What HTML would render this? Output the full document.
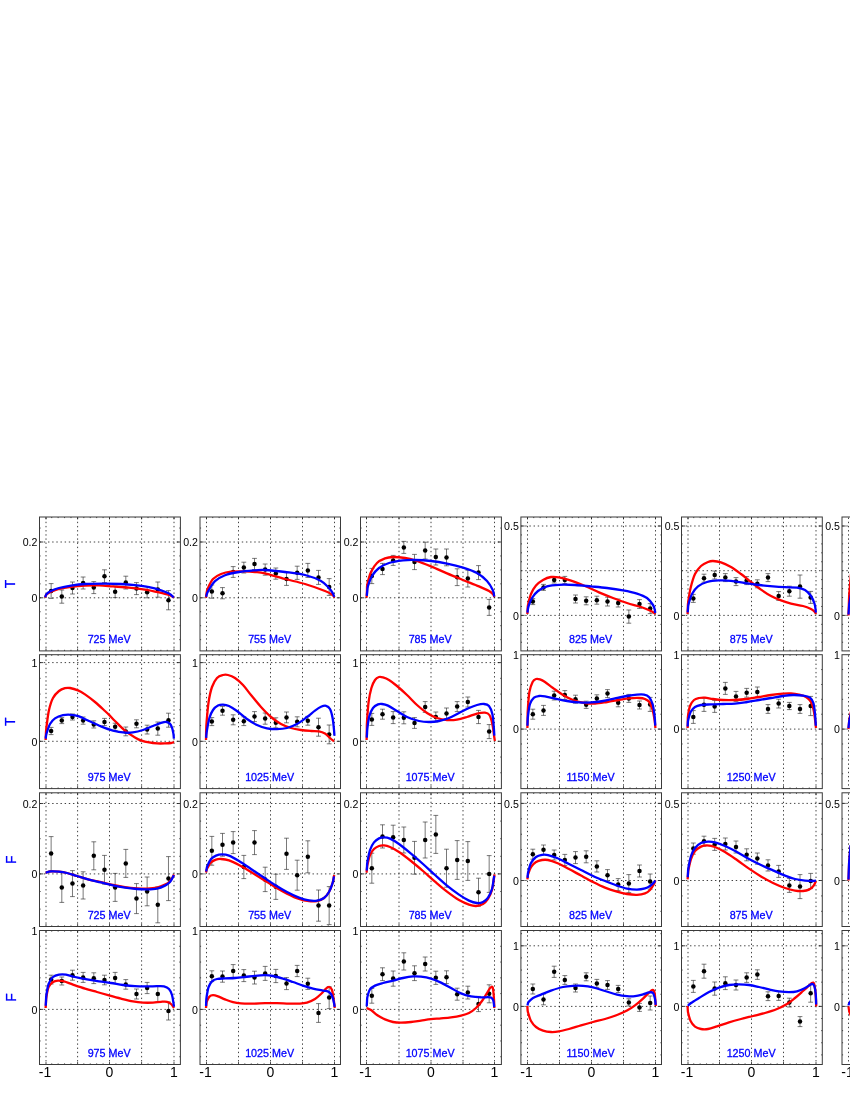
<!DOCTYPE html>
<html><head><meta charset="utf-8"><title>T and F observables</title>
<style>
html,body{margin:0;padding:0;background:#fff}
body{width:850px;height:1100px;overflow:hidden;font-family:"Liberation Sans",sans-serif}
svg{display:block;will-change:transform}
text{font-family:"Liberation Sans",sans-serif}
.g{stroke:#111;stroke-width:0.8;fill:none;stroke-dasharray:1.4 2.76}
.t{stroke:#222;stroke-width:0.85;fill:none}
.fr{stroke:#3a3a3a;stroke-width:1.0;fill:none}
.e{stroke:#333;stroke-width:0.66;fill:none}
.red{stroke:#ff0000;stroke-width:2.3;fill:none;stroke-linejoin:round}
.blue{stroke:#0000ff;stroke-width:2.3;fill:none;stroke-linejoin:round}
.yl{font-size:10.6px;text-anchor:end;fill:#000}
.xl{font-size:14px;text-anchor:middle;fill:#000}
.lb{font-size:10.75px;text-anchor:middle;fill:#0000ff;stroke:#0000ff;stroke-width:0.28}
.rl{font-size:14px;text-anchor:middle;fill:#0000ff;stroke:#0000ff;stroke-width:0.25}
</style></head><body>
<svg width="850" height="1100" viewBox="0 0 850 1100">
<rect width="850" height="1100" fill="#fff"/>
<path d="M46 517.6V650.9M77.6 517.6V650.9M109.5 517.6V650.9M141.6 517.6V650.9M174 517.6V650.9M39.7 542H180.4M39.7 597.8H180.4" class="g"/>
<path d="M39.5 639.65h1.1M180.4 639.65h-1.1M39.5 625.7h1.1M180.4 625.7h-1.1M39.5 611.75h1.1M180.4 611.75h-1.1M39.5 597.8h3.7M180.4 597.8h-3.7M39.5 583.85h1.1M180.4 583.85h-1.1M39.5 569.9h1.1M180.4 569.9h-1.1M39.5 555.95h1.1M180.4 555.95h-1.1M39.5 542h3.7M180.4 542h-3.7M39.5 528.05h1.1M180.4 528.05h-1.1M46 650.9v-2.4M46 517v2.4M51.72 650.9v-1.1M51.72 517v1.1M58.14 650.9v-1.1M58.14 517v1.1M64.56 650.9v-1.1M64.56 517v1.1M70.98 650.9v-1.1M70.98 517v1.1M77.6 650.9v-2.4M77.6 517v2.4M83.82 650.9v-1.1M83.82 517v1.1M90.24 650.9v-1.1M90.24 517v1.1M96.66 650.9v-1.1M96.66 517v1.1M103.08 650.9v-1.1M103.08 517v1.1M109.5 650.9v-2.4M109.5 517v2.4M115.92 650.9v-1.1M115.92 517v1.1M122.34 650.9v-1.1M122.34 517v1.1M128.76 650.9v-1.1M128.76 517v1.1M135.18 650.9v-1.1M135.18 517v1.1M141.6 650.9v-2.4M141.6 517v2.4M148.02 650.9v-1.1M148.02 517v1.1M154.44 650.9v-1.1M154.44 517v1.1M160.86 650.9v-1.1M160.86 517v1.1M167.28 650.9v-1.1M167.28 517v1.1M174 650.9v-2.4M174 517v2.4" class="t"/>
<text x="37.45" y="546.2" class="yl">0.2</text>
<text x="37.45" y="602" class="yl">0</text>
<path d="M51.13 583.6V598.4M48.73 583.6h4.8M48.73 598.4h4.8M61.8 590V603.2M59.4 590h4.8M59.4 603.2h4.8M72.47 582V594M70.07 582h4.8M70.07 594h4.8M83.13 577V589M80.73 577h4.8M80.73 589h4.8M93.8 581.6V593.6M91.4 581.6h4.8M91.4 593.6h4.8M104.47 569.8V582.6M102.07 569.8h4.8M102.07 582.6h4.8M115.13 586V597.6M112.73 586h4.8M112.73 597.6h4.8M125.8 576.2V589M123.4 576.2h4.8M123.4 589h4.8M136.47 582.6V594.6M134.07 582.6h4.8M134.07 594.6h4.8M147.13 586.6V597.8M144.73 586.6h4.8M144.73 597.8h4.8M157.8 582V597.2M155.4 582h4.8M155.4 597.2h4.8M168.47 590.6V609.8M166.07 590.6h4.8M166.07 609.8h4.8" class="e"/>
<g><circle cx="51.13" cy="591" r="2.25"/><circle cx="61.8" cy="596.6" r="2.25"/><circle cx="72.47" cy="588" r="2.25"/><circle cx="83.13" cy="583" r="2.25"/><circle cx="93.8" cy="587.6" r="2.25"/><circle cx="104.47" cy="576.2" r="2.25"/><circle cx="115.13" cy="591.8" r="2.25"/><circle cx="125.8" cy="582.6" r="2.25"/><circle cx="136.47" cy="588.6" r="2.25"/><circle cx="147.13" cy="592.2" r="2.25"/><circle cx="157.8" cy="589.6" r="2.25"/><circle cx="168.47" cy="600.2" r="2.25"/></g>
<path d="M45 597.6C45.27 597.07 45.6 595.4 46.6 594.4C47.6 593.4 48.93 592.53 51 591.6C53.07 590.67 55.67 589.6 59 588.8C62.33 588 66.67 587.33 71 586.8C75.33 586.27 80.33 585.83 85 585.6C89.67 585.37 94.33 585.27 99 585.4C103.67 585.53 108 586.03 113 586.4C118 586.77 123.67 587.07 129 587.6C134.33 588.13 140 588.8 145 589.6C150 590.4 155 591.5 159 592.4C163 593.3 166.5 594.13 169 595C171.5 595.87 173.17 597.17 174 597.6" class="red"/>
<path d="M45.21 597.14C45.44 596.61 45.63 595.02 46.6 594C47.57 592.98 48.93 592 51 591C53.07 590 55.67 588.9 59 588C62.33 587.1 66.67 586.27 71 585.6C75.33 584.93 79.33 584.33 85 584C90.67 583.67 99 583.6 105 583.6C111 583.6 116 583.73 121 584C126 584.27 130.33 584.67 135 585.2C139.67 585.73 144.67 586.33 149 587.2C153.33 588.07 157.67 589.33 161 590.4C164.33 591.47 166.88 592.44 169 593.6C171.12 594.76 172.94 596.76 173.73 597.39" class="blue"/>
<text x="109.15" y="643" class="lb">725 MeV</text>
<rect x="39.5" y="517" width="140.9" height="133.9" class="fr"/>
<path d="M206.5 517.6V650.9M238.5 517.6V650.9M270.5 517.6V650.9M302.5 517.6V650.9M334.5 517.6V650.9M200.2 542H340.5M200.2 597.8H340.5" class="g"/>
<path d="M200 639.65h1.1M340.5 639.65h-1.1M200 625.7h1.1M340.5 625.7h-1.1M200 611.75h1.1M340.5 611.75h-1.1M200 597.8h3.7M340.5 597.8h-3.7M200 583.85h1.1M340.5 583.85h-1.1M200 569.9h1.1M340.5 569.9h-1.1M200 555.95h1.1M340.5 555.95h-1.1M200 542h3.7M340.5 542h-3.7M200 528.05h1.1M340.5 528.05h-1.1M206.5 650.9v-2.4M206.5 517v2.4M212.72 650.9v-1.1M212.72 517v1.1M219.14 650.9v-1.1M219.14 517v1.1M225.56 650.9v-1.1M225.56 517v1.1M231.98 650.9v-1.1M231.98 517v1.1M238.5 650.9v-2.4M238.5 517v2.4M244.82 650.9v-1.1M244.82 517v1.1M251.24 650.9v-1.1M251.24 517v1.1M257.66 650.9v-1.1M257.66 517v1.1M264.08 650.9v-1.1M264.08 517v1.1M270.5 650.9v-2.4M270.5 517v2.4M276.92 650.9v-1.1M276.92 517v1.1M283.34 650.9v-1.1M283.34 517v1.1M289.76 650.9v-1.1M289.76 517v1.1M296.18 650.9v-1.1M296.18 517v1.1M302.5 650.9v-2.4M302.5 517v2.4M309.02 650.9v-1.1M309.02 517v1.1M315.44 650.9v-1.1M315.44 517v1.1M321.86 650.9v-1.1M321.86 517v1.1M328.28 650.9v-1.1M328.28 517v1.1M334.5 650.9v-2.4M334.5 517v2.4" class="t"/>
<text x="197.95" y="546.2" class="yl">0.2</text>
<text x="197.95" y="602" class="yl">0</text>
<path d="M211.83 585V598.2M209.43 585h4.8M209.43 598.2h4.8M222.5 587.6V598.8M220.1 587.6h4.8M220.1 598.8h4.8M233.17 566.6V577.4M230.77 566.6h4.8M230.77 577.4h4.8M243.83 562.2V573M241.43 562.2h4.8M241.43 573h4.8M254.5 558.4V569.6M252.1 558.4h4.8M252.1 569.6h4.8M265.17 564V575.2M262.77 564h4.8M262.77 575.2h4.8M275.83 568V579.2M273.43 568h4.8M273.43 579.2h4.8M286.5 572.6V585.4M284.1 572.6h4.8M284.1 585.4h4.8M297.17 566.2V579.4M294.77 566.2h4.8M294.77 579.4h4.8M307.83 563.4V577.4M305.43 563.4h4.8M305.43 577.4h4.8M318.5 570.4V584.4M316.1 570.4h4.8M316.1 584.4h4.8M329.17 578.6V595.4M326.77 578.6h4.8M326.77 595.4h4.8" class="e"/>
<g><circle cx="211.83" cy="591.6" r="2.25"/><circle cx="222.5" cy="593.2" r="2.25"/><circle cx="233.17" cy="572" r="2.25"/><circle cx="243.83" cy="567.6" r="2.25"/><circle cx="254.5" cy="564" r="2.25"/><circle cx="265.17" cy="569.6" r="2.25"/><circle cx="275.83" cy="573.6" r="2.25"/><circle cx="286.5" cy="579" r="2.25"/><circle cx="297.17" cy="572.8" r="2.25"/><circle cx="307.83" cy="570.4" r="2.25"/><circle cx="318.5" cy="577.4" r="2.25"/><circle cx="329.17" cy="587" r="2.25"/></g>
<path d="M206 597.6C206.1 596.83 206.27 594.6 206.6 593C206.93 591.4 206.93 590.33 208 588C209.07 585.67 210.83 581.33 213 579C215.17 576.67 218 575.23 221 574C224 572.77 227 572.03 231 571.6C235 571.17 241 571.33 245 571.4C249 571.47 251.67 571.67 255 572C258.33 572.33 260 572.23 265 573.4C270 574.57 278.33 577.23 285 579C291.67 580.77 298.33 582 305 584C311.67 586 320.5 589.23 325 591C329.5 592.77 330.4 593.5 332 594.6C333.6 595.7 334.17 597.1 334.6 597.6" class="red"/>
<path d="M206.23 596.67C206.36 596.16 206.54 594.78 207 593.6C207.46 592.42 207.67 591.67 209 589.6C210.33 587.53 212.33 583.6 215 581.2C217.67 578.8 221 576.73 225 575.2C229 573.67 234 572.8 239 572C244 571.2 250.67 570.73 255 570.4C259.33 570.07 260 569.73 265 570C270 570.27 278.33 571.17 285 572C291.67 572.83 299 573.5 305 575C311 576.5 317 578.83 321 581C325 583.17 327 585.9 329 588C331 590.1 332.14 592.12 333 593.6C333.86 595.08 333.95 596.32 334.14 596.86" class="blue"/>
<text x="269.65" y="643" class="lb">755 MeV</text>
<rect x="200" y="517" width="140.5" height="133.9" class="fr"/>
<path d="M366.5 517.6V650.9M399 517.6V650.9M431 517.6V650.9M463 517.6V650.9M494.5 517.6V650.9M360.7 542H501.4M360.7 597.8H501.4" class="g"/>
<path d="M360.5 639.65h1.1M501.4 639.65h-1.1M360.5 625.7h1.1M501.4 625.7h-1.1M360.5 611.75h1.1M501.4 611.75h-1.1M360.5 597.8h3.7M501.4 597.8h-3.7M360.5 583.85h1.1M501.4 583.85h-1.1M360.5 569.9h1.1M501.4 569.9h-1.1M360.5 555.95h1.1M501.4 555.95h-1.1M360.5 542h3.7M501.4 542h-3.7M360.5 528.05h1.1M501.4 528.05h-1.1M366.5 650.9v-2.4M366.5 517v2.4M373.22 650.9v-1.1M373.22 517v1.1M379.64 650.9v-1.1M379.64 517v1.1M386.06 650.9v-1.1M386.06 517v1.1M392.48 650.9v-1.1M392.48 517v1.1M399 650.9v-2.4M399 517v2.4M405.32 650.9v-1.1M405.32 517v1.1M411.74 650.9v-1.1M411.74 517v1.1M418.16 650.9v-1.1M418.16 517v1.1M424.58 650.9v-1.1M424.58 517v1.1M431 650.9v-2.4M431 517v2.4M437.42 650.9v-1.1M437.42 517v1.1M443.84 650.9v-1.1M443.84 517v1.1M450.26 650.9v-1.1M450.26 517v1.1M456.68 650.9v-1.1M456.68 517v1.1M463 650.9v-2.4M463 517v2.4M469.52 650.9v-1.1M469.52 517v1.1M475.94 650.9v-1.1M475.94 517v1.1M482.36 650.9v-1.1M482.36 517v1.1M488.78 650.9v-1.1M488.78 517v1.1M494.5 650.9v-2.4M494.5 517v2.4" class="t"/>
<text x="358.45" y="546.2" class="yl">0.2</text>
<text x="358.45" y="602" class="yl">0</text>
<path d="M371.83 568.4V583.6M369.43 568.4h4.8M369.43 583.6h4.8M382.5 563.4V574.6M380.1 563.4h4.8M380.1 574.6h4.8M393.17 555.4V565.4M390.77 555.4h4.8M390.77 565.4h4.8M403.83 541.4V553.4M401.43 541.4h4.8M401.43 553.4h4.8M414.5 554.4V569.6M412.1 554.4h4.8M412.1 569.6h4.8M425.17 542.2V559M422.77 542.2h4.8M422.77 559h4.8M435.83 549V565M433.43 549h4.8M433.43 565h4.8M446.5 549V565.8M444.1 549h4.8M444.1 565.8h4.8M457.17 568.8V585.6M454.77 568.8h4.8M454.77 585.6h4.8M467.83 570.2V587M465.43 570.2h4.8M465.43 587h4.8M478.5 565.6V579.6M476.1 565.6h4.8M476.1 579.6h4.8M489.17 599.4V615.4M486.77 599.4h4.8M486.77 615.4h4.8" class="e"/>
<g><circle cx="371.83" cy="576" r="2.25"/><circle cx="382.5" cy="569" r="2.25"/><circle cx="393.17" cy="560.4" r="2.25"/><circle cx="403.83" cy="547.4" r="2.25"/><circle cx="414.5" cy="562" r="2.25"/><circle cx="425.17" cy="550.6" r="2.25"/><circle cx="435.83" cy="557" r="2.25"/><circle cx="446.5" cy="557.4" r="2.25"/><circle cx="457.17" cy="577.2" r="2.25"/><circle cx="467.83" cy="578.6" r="2.25"/><circle cx="478.5" cy="572.6" r="2.25"/><circle cx="489.17" cy="607.4" r="2.25"/></g>
<path d="M366.6 597.6C366.67 596.33 366.87 592.27 367 590C367.13 587.73 366.73 587 367.4 584C368.07 581 369.4 575.5 371 572C372.6 568.5 374.67 565.27 377 563C379.33 560.73 382.33 559.4 385 558.4C387.67 557.4 389.67 557.07 393 557C396.33 556.93 401.33 557.43 405 558C408.67 558.57 410.67 559 415 560.4C419.33 561.8 425.67 564.23 431 566.4C436.33 568.57 441.67 571.13 447 573.4C452.33 575.67 457.67 577.83 463 580C468.33 582.17 474.67 584.57 479 586.4C483.33 588.23 486.71 589.73 489 591C491.29 592.27 491.84 593 492.76 594C493.68 595 494.21 596.5 494.5 597" class="red"/>
<path d="M366.78 595.9C366.85 595.25 367 593.65 367.2 592C367.4 590.35 367.2 588.67 368 586C368.8 583.33 370.17 579 372 576C373.83 573 376.17 570.17 379 568C381.83 565.83 385 564.27 389 563C393 561.73 398.67 560.9 403 560.4C407.33 559.9 410.33 559.9 415 560C419.67 560.1 425.67 560.4 431 561C436.33 561.6 441.67 562.5 447 563.6C452.33 564.7 458 566.03 463 567.6C468 569.17 473 570.77 477 573C481 575.23 484.37 578.17 487 581C489.63 583.83 491.55 587.41 492.76 590C493.97 592.59 494 595.43 494.25 596.51" class="blue"/>
<text x="430.15" y="643" class="lb">785 MeV</text>
<rect x="360.5" y="517" width="140.9" height="133.9" class="fr"/>
<path d="M527.5 517.6V650.9M559.5 517.6V650.9M591.5 517.6V650.9M623.5 517.6V650.9M655.5 517.6V650.9M521.1 526H661.5M521.1 570.7H661.5M521.1 615.4H661.5" class="g"/>
<path d="M520.9 642.22h1.1M661.5 642.22h-1.1M520.9 633.28h1.1M661.5 633.28h-1.1M520.9 624.34h1.1M661.5 624.34h-1.1M520.9 615.4h3.7M661.5 615.4h-3.7M520.9 606.46h1.1M661.5 606.46h-1.1M520.9 597.52h1.1M661.5 597.52h-1.1M520.9 588.58h1.1M661.5 588.58h-1.1M520.9 579.64h1.1M661.5 579.64h-1.1M520.9 570.7h1.1M661.5 570.7h-1.1M520.9 561.76h1.1M661.5 561.76h-1.1M520.9 552.82h1.1M661.5 552.82h-1.1M520.9 543.88h1.1M661.5 543.88h-1.1M520.9 534.94h1.1M661.5 534.94h-1.1M520.9 526h3.7M661.5 526h-3.7M527.5 650.9v-2.4M527.5 517v2.4M533.72 650.9v-1.1M533.72 517v1.1M540.14 650.9v-1.1M540.14 517v1.1M546.56 650.9v-1.1M546.56 517v1.1M552.98 650.9v-1.1M552.98 517v1.1M559.5 650.9v-2.4M559.5 517v2.4M565.82 650.9v-1.1M565.82 517v1.1M572.24 650.9v-1.1M572.24 517v1.1M578.66 650.9v-1.1M578.66 517v1.1M585.08 650.9v-1.1M585.08 517v1.1M591.5 650.9v-2.4M591.5 517v2.4M597.92 650.9v-1.1M597.92 517v1.1M604.34 650.9v-1.1M604.34 517v1.1M610.76 650.9v-1.1M610.76 517v1.1M617.18 650.9v-1.1M617.18 517v1.1M623.5 650.9v-2.4M623.5 517v2.4M630.02 650.9v-1.1M630.02 517v1.1M636.44 650.9v-1.1M636.44 517v1.1M642.86 650.9v-1.1M642.86 517v1.1M649.28 650.9v-1.1M649.28 517v1.1M655.5 650.9v-2.4M655.5 517v2.4" class="t"/>
<text x="518.85" y="530.2" class="yl">0.5</text>
<text x="518.85" y="619.6" class="yl">0</text>
<path d="M532.83 598.6V604.6M530.43 598.6h4.8M530.43 604.6h4.8M543.5 584.4V590.4M541.1 584.4h4.8M541.1 590.4h4.8M554.17 577V583M551.77 577h4.8M551.77 583h4.8M564.83 576.4V583.6M562.43 576.4h4.8M562.43 583.6h4.8M575.5 595V603M573.1 595h4.8M573.1 603h4.8M586.17 596.8V604.8M583.77 596.8h4.8M583.77 604.8h4.8M596.83 596.2V604.2M594.43 596.2h4.8M594.43 604.2h4.8M607.5 597.2V606M605.1 597.2h4.8M605.1 606h4.8M618.17 599V607M615.77 599h4.8M615.77 607h4.8M628.83 610V623.2M626.43 610h4.8M626.43 623.2h4.8M639.5 599.6V608.4M637.1 599.6h4.8M637.1 608.4h4.8M650.17 603.6V613.6M647.77 603.6h4.8M647.77 613.6h4.8" class="e"/>
<g><circle cx="532.83" cy="601.6" r="2.25"/><circle cx="543.5" cy="587.4" r="2.25"/><circle cx="554.17" cy="580" r="2.25"/><circle cx="564.83" cy="580" r="2.25"/><circle cx="575.5" cy="599" r="2.25"/><circle cx="586.17" cy="600.8" r="2.25"/><circle cx="596.83" cy="600.2" r="2.25"/><circle cx="607.5" cy="601.6" r="2.25"/><circle cx="618.17" cy="603" r="2.25"/><circle cx="628.83" cy="616.6" r="2.25"/><circle cx="639.5" cy="604" r="2.25"/><circle cx="650.17" cy="608.6" r="2.25"/></g>
<path d="M527.4 614C527.43 613.17 527.47 610.67 527.6 609C527.73 607.33 527.63 606.5 528.2 604C528.77 601.5 529.7 597.07 531 594C532.3 590.93 534 587.93 536 585.6C538 583.27 540.5 581.43 543 580C545.5 578.57 548.33 577.43 551 577C553.67 576.57 555.67 576.8 559 577.4C562.33 578 566.67 579.17 571 580.6C575.33 582.03 580.33 584.03 585 586C589.67 587.97 594.33 590.4 599 592.4C603.67 594.4 608.33 596.23 613 598C617.67 599.77 622.33 601.5 627 603C631.67 604.5 637 605.67 641 607C645 608.33 648.6 609.83 651 611C653.4 612.17 654.67 613.5 655.4 614" class="red"/>
<path d="M527.54 612.65C527.58 612.21 527.62 611.11 527.8 610C527.98 608.89 527.9 608 528.6 606C529.3 604 530.43 600.5 532 598C533.57 595.5 535.5 592.93 538 591C540.5 589.07 543.5 587.43 547 586.4C550.5 585.37 554.33 585.03 559 584.8C563.67 584.57 569.67 584.73 575 585C580.33 585.27 585.67 585.9 591 586.4C596.33 586.9 601.67 587.33 607 588C612.33 588.67 618 589.47 623 590.4C628 591.33 633 592.33 637 593.6C641 594.87 644.33 596.1 647 598C649.67 599.9 651.7 603 653 605C654.3 607 654.43 608.67 654.8 610C655.17 611.33 655.17 612.49 655.25 612.99" class="blue"/>
<text x="590.55" y="643" class="lb">825 MeV</text>
<rect x="520.9" y="517" width="140.6" height="133.9" class="fr"/>
<path d="M688 517.6V650.9M719.5 517.6V650.9M751.5 517.6V650.9M783.5 517.6V650.9M816 517.6V650.9M681.7 526H822.3M681.7 570.7H822.3M681.7 615.4H822.3" class="g"/>
<path d="M681.5 642.22h1.1M822.3 642.22h-1.1M681.5 633.28h1.1M822.3 633.28h-1.1M681.5 624.34h1.1M822.3 624.34h-1.1M681.5 615.4h3.7M822.3 615.4h-3.7M681.5 606.46h1.1M822.3 606.46h-1.1M681.5 597.52h1.1M822.3 597.52h-1.1M681.5 588.58h1.1M822.3 588.58h-1.1M681.5 579.64h1.1M822.3 579.64h-1.1M681.5 570.7h1.1M822.3 570.7h-1.1M681.5 561.76h1.1M822.3 561.76h-1.1M681.5 552.82h1.1M822.3 552.82h-1.1M681.5 543.88h1.1M822.3 543.88h-1.1M681.5 534.94h1.1M822.3 534.94h-1.1M681.5 526h3.7M822.3 526h-3.7M688 650.9v-2.4M688 517v2.4M693.72 650.9v-1.1M693.72 517v1.1M700.14 650.9v-1.1M700.14 517v1.1M706.56 650.9v-1.1M706.56 517v1.1M712.98 650.9v-1.1M712.98 517v1.1M719.5 650.9v-2.4M719.5 517v2.4M725.82 650.9v-1.1M725.82 517v1.1M732.24 650.9v-1.1M732.24 517v1.1M738.66 650.9v-1.1M738.66 517v1.1M745.08 650.9v-1.1M745.08 517v1.1M751.5 650.9v-2.4M751.5 517v2.4M757.92 650.9v-1.1M757.92 517v1.1M764.34 650.9v-1.1M764.34 517v1.1M770.76 650.9v-1.1M770.76 517v1.1M777.18 650.9v-1.1M777.18 517v1.1M783.5 650.9v-2.4M783.5 517v2.4M790.02 650.9v-1.1M790.02 517v1.1M796.44 650.9v-1.1M796.44 517v1.1M802.86 650.9v-1.1M802.86 517v1.1M809.28 650.9v-1.1M809.28 517v1.1M816 650.9v-2.4M816 517v2.4" class="t"/>
<text x="679.45" y="530.2" class="yl">0.5</text>
<text x="679.45" y="619.6" class="yl">0</text>
<path d="M693.33 594.4V602.4M690.93 594.4h4.8M690.93 602.4h4.8M704 574.2V582.2M701.6 574.2h4.8M701.6 582.2h4.8M714.67 571V579M712.27 571h4.8M712.27 579h4.8M725.33 573.6V581.6M722.93 573.6h4.8M722.93 581.6h4.8M736 577.6V585.6M733.6 577.6h4.8M733.6 585.6h4.8M746.67 576.6V584.6M744.27 576.6h4.8M744.27 584.6h4.8M757.33 579.8V587.8M754.93 579.8h4.8M754.93 587.8h4.8M768 573.6V581.6M765.6 573.6h4.8M765.6 581.6h4.8M778.67 591.6V600.4M776.27 591.6h4.8M776.27 600.4h4.8M789.33 586.2V596.2M786.93 586.2h4.8M786.93 596.2h4.8M800 575V598.2M797.6 575h4.8M797.6 598.2h4.8M810.67 591.4V603.4M808.27 591.4h4.8M808.27 603.4h4.8" class="e"/>
<g><circle cx="693.33" cy="598.4" r="2.25"/><circle cx="704" cy="578.2" r="2.25"/><circle cx="714.67" cy="575" r="2.25"/><circle cx="725.33" cy="577.6" r="2.25"/><circle cx="736" cy="581.6" r="2.25"/><circle cx="746.67" cy="580.6" r="2.25"/><circle cx="757.33" cy="583.8" r="2.25"/><circle cx="768" cy="577.6" r="2.25"/><circle cx="778.67" cy="596" r="2.25"/><circle cx="789.33" cy="591.2" r="2.25"/><circle cx="800" cy="586.6" r="2.25"/><circle cx="810.67" cy="597.4" r="2.25"/></g>
<path d="M687.6 614C687.63 613 687.7 610 687.8 608C687.9 606 687.73 605.33 688.2 602C688.67 598.67 689.47 592.67 690.6 588C691.73 583.33 693.27 577.67 695 574C696.73 570.33 698.83 568 701 566C703.17 564 706 562.83 708 562C710 561.17 710.83 560.93 713 561C715.17 561.07 718 561.4 721 562.4C724 563.4 727.67 565.07 731 567C734.33 568.93 737.67 571.5 741 574C744.33 576.5 747.67 579.4 751 582C754.33 584.6 757.67 587.27 761 589.6C764.33 591.93 767.67 594.2 771 596C774.33 597.8 777.67 599.13 781 600.4C784.33 601.67 787.33 602.67 791 603.6C794.67 604.53 799.67 605.1 803 606C806.33 606.9 809.07 608.07 811 609C812.93 609.93 813.77 610.77 814.6 611.6C815.43 612.43 815.77 613.6 816 614" class="red"/>
<path d="M687.73 612.32C687.78 611.76 687.86 610.39 688 609C688.14 607.61 687.93 606.5 688.6 604C689.27 601.5 690.43 596.93 692 594C693.57 591.07 695.5 588.4 698 586.4C700.5 584.4 703.5 583 707 582C710.5 581 715 580.6 719 580.4C723 580.2 726.67 580.37 731 580.8C735.33 581.23 740.33 582.3 745 583C749.67 583.7 754.33 584.43 759 585C763.67 585.57 768.67 586.03 773 586.4C777.33 586.77 781 587 785 587.2C789 587.4 793.67 587.13 797 587.6C800.33 588.07 802.67 588.6 805 590C807.33 591.4 809.4 593.67 811 596C812.6 598.33 813.83 601.67 814.6 604C815.37 606.33 815.39 608.57 815.6 610C815.81 611.43 815.81 612.13 815.86 612.55" class="blue"/>
<text x="751.15" y="643" class="lb">875 MeV</text>
<rect x="681.5" y="517" width="140.8" height="133.9" class="fr"/>
<path d="M848.5 517.6V650.9M842.2 526H852M842.2 570.7H852M842.2 615.4H852" class="g"/>
<path d="M842 642.22h1.1M842 633.28h1.1M842 624.34h1.1M842 615.4h3.7M842 606.46h1.1M842 597.52h1.1M842 588.58h1.1M842 579.64h1.1M842 570.7h1.1M842 561.76h1.1M842 552.82h1.1M842 543.88h1.1M842 534.94h1.1M842 526h3.7" class="t"/>
<text x="839.95" y="530.2" class="yl">0.5</text>
<text x="839.95" y="619.6" class="yl">0</text>
<path d="M848.5 615.4Q848.7 594.7 851 574" class="red"/>
<path d="M848.5 614.4Q848.7 604.7 851 594" class="blue"/>
<rect x="842" y="517" width="141" height="133.9" class="fr"/>
<path d="M46 655.3V788.6M77.6 655.3V788.6M109.5 655.3V788.6M141.6 655.3V788.6M174 655.3V788.6M39.7 662.6H180.4M39.7 741.3H180.4" class="g"/>
<path d="M39.5 772.78h1.1M180.4 772.78h-1.1M39.5 757.04h1.1M180.4 757.04h-1.1M39.5 741.3h3.7M180.4 741.3h-3.7M39.5 725.56h1.1M180.4 725.56h-1.1M39.5 709.82h1.1M180.4 709.82h-1.1M39.5 694.08h1.1M180.4 694.08h-1.1M39.5 678.34h1.1M180.4 678.34h-1.1M39.5 662.6h3.7M180.4 662.6h-3.7M46 788.6v-2.4M46 654.7v2.4M51.72 788.6v-1.1M51.72 654.7v1.1M58.14 788.6v-1.1M58.14 654.7v1.1M64.56 788.6v-1.1M64.56 654.7v1.1M70.98 788.6v-1.1M70.98 654.7v1.1M77.6 788.6v-2.4M77.6 654.7v2.4M83.82 788.6v-1.1M83.82 654.7v1.1M90.24 788.6v-1.1M90.24 654.7v1.1M96.66 788.6v-1.1M96.66 654.7v1.1M103.08 788.6v-1.1M103.08 654.7v1.1M109.5 788.6v-2.4M109.5 654.7v2.4M115.92 788.6v-1.1M115.92 654.7v1.1M122.34 788.6v-1.1M122.34 654.7v1.1M128.76 788.6v-1.1M128.76 654.7v1.1M135.18 788.6v-1.1M135.18 654.7v1.1M141.6 788.6v-2.4M141.6 654.7v2.4M148.02 788.6v-1.1M148.02 654.7v1.1M154.44 788.6v-1.1M154.44 654.7v1.1M160.86 788.6v-1.1M160.86 654.7v1.1M167.28 788.6v-1.1M167.28 654.7v1.1M174 788.6v-2.4M174 654.7v2.4" class="t"/>
<text x="37.45" y="666.8" class="yl">1</text>
<text x="37.45" y="745.5" class="yl">0</text>
<path d="M51.13 727.4V734.6M48.73 727.4h4.8M48.73 734.6h4.8M61.8 717.6V723.6M59.4 717.6h4.8M59.4 723.6h4.8M72.47 714V720M70.07 714h4.8M70.07 720h4.8M83.13 717V724.2M80.73 717h4.8M80.73 724.2h4.8M93.8 720.8V728M91.4 720.8h4.8M91.4 728h4.8M104.47 718.4V725.6M102.07 718.4h4.8M102.07 725.6h4.8M115.13 723.2V730.4M112.73 723.2h4.8M112.73 730.4h4.8M125.8 727V735.8M123.4 727h4.8M123.4 735.8h4.8M136.47 719.8V727.8M134.07 719.8h4.8M134.07 727.8h4.8M147.13 725.2V734M144.73 725.2h4.8M144.73 734h4.8M157.8 722V735.2M155.4 722h4.8M155.4 735.2h4.8M168.47 713.2V727.2M166.07 713.2h4.8M166.07 727.2h4.8" class="e"/>
<g><circle cx="51.13" cy="731" r="2.25"/><circle cx="61.8" cy="720.6" r="2.25"/><circle cx="72.47" cy="717" r="2.25"/><circle cx="83.13" cy="720.6" r="2.25"/><circle cx="93.8" cy="724.4" r="2.25"/><circle cx="104.47" cy="722" r="2.25"/><circle cx="115.13" cy="726.8" r="2.25"/><circle cx="125.8" cy="731.4" r="2.25"/><circle cx="136.47" cy="723.8" r="2.25"/><circle cx="147.13" cy="729.6" r="2.25"/><circle cx="157.8" cy="728.6" r="2.25"/><circle cx="168.47" cy="720.2" r="2.25"/></g>
<path d="M45.6 740C45.67 738.67 45.83 734.33 46 732C46.17 729.67 46.1 729.67 46.6 726C47.1 722.33 47.93 714.67 49 710C50.07 705.33 51.33 701.17 53 698C54.67 694.83 57 692.63 59 691C61 689.37 63.17 688.7 65 688.2C66.83 687.7 67.83 687.63 70 688C72.17 688.37 75.5 689.33 78 690.4C80.5 691.47 82.17 692.47 85 694.4C87.83 696.33 91.67 699.23 95 702C98.33 704.77 102.57 708.77 105 711C107.43 713.23 107.93 713.73 109.6 715.4C111.27 717.07 112.43 718.47 115 721C117.57 723.53 121.67 727.87 125 730.6C128.33 733.33 132.23 735.73 135 737.4C137.77 739.07 139.27 739.77 141.6 740.6C143.93 741.43 146.43 741.93 149 742.4C151.57 742.87 154.33 743.23 157 743.4C159.67 743.57 162.67 743.47 165 743.4C167.33 743.33 169.5 743.23 171 743C172.5 742.77 173.5 742.17 174 742" class="red"/>
<path d="M45.74 738.64C45.78 738.2 45.79 737.11 46 736C46.21 734.89 46.33 734 47 732C47.67 730 48.67 726.27 50 724C51.33 721.73 52.83 719.87 55 718.4C57.17 716.93 60.33 715.8 63 715.2C65.67 714.6 68.33 714.6 71 714.8C73.67 715 76 715.37 79 716.4C82 717.43 85.33 719.33 89 721C92.67 722.67 97 724.8 101 726.4C105 728 109 729.57 113 730.6C117 731.63 121.67 732.3 125 732.6C128.33 732.9 130 732.83 133 732.4C136 731.97 139.67 731.07 143 730C146.33 728.93 149.83 727.23 153 726C156.17 724.77 159.73 723.27 162 722.6C164.27 721.93 165.3 721.83 166.6 722C167.9 722.17 168.9 722.67 169.8 723.6C170.7 724.53 171.4 725.93 172 727.6C172.6 729.27 173.09 731.75 173.4 733.6C173.71 735.45 173.8 737.84 173.88 738.69" class="blue"/>
<text x="109.15" y="780.7" class="lb">975 MeV</text>
<rect x="39.5" y="654.7" width="140.9" height="133.9" class="fr"/>
<path d="M206.5 655.3V788.6M238.5 655.3V788.6M270.5 655.3V788.6M302.5 655.3V788.6M334.5 655.3V788.6M200.2 662.6H340.5M200.2 741.3H340.5" class="g"/>
<path d="M200 772.78h1.1M340.5 772.78h-1.1M200 757.04h1.1M340.5 757.04h-1.1M200 741.3h3.7M340.5 741.3h-3.7M200 725.56h1.1M340.5 725.56h-1.1M200 709.82h1.1M340.5 709.82h-1.1M200 694.08h1.1M340.5 694.08h-1.1M200 678.34h1.1M340.5 678.34h-1.1M200 662.6h3.7M340.5 662.6h-3.7M206.5 788.6v-2.4M206.5 654.7v2.4M212.72 788.6v-1.1M212.72 654.7v1.1M219.14 788.6v-1.1M219.14 654.7v1.1M225.56 788.6v-1.1M225.56 654.7v1.1M231.98 788.6v-1.1M231.98 654.7v1.1M238.5 788.6v-2.4M238.5 654.7v2.4M244.82 788.6v-1.1M244.82 654.7v1.1M251.24 788.6v-1.1M251.24 654.7v1.1M257.66 788.6v-1.1M257.66 654.7v1.1M264.08 788.6v-1.1M264.08 654.7v1.1M270.5 788.6v-2.4M270.5 654.7v2.4M276.92 788.6v-1.1M276.92 654.7v1.1M283.34 788.6v-1.1M283.34 654.7v1.1M289.76 788.6v-1.1M289.76 654.7v1.1M296.18 788.6v-1.1M296.18 654.7v1.1M302.5 788.6v-2.4M302.5 654.7v2.4M309.02 788.6v-1.1M309.02 654.7v1.1M315.44 788.6v-1.1M315.44 654.7v1.1M321.86 788.6v-1.1M321.86 654.7v1.1M328.28 788.6v-1.1M328.28 654.7v1.1M334.5 788.6v-2.4M334.5 654.7v2.4" class="t"/>
<text x="197.95" y="666.8" class="yl">1</text>
<text x="197.95" y="745.5" class="yl">0</text>
<path d="M211.83 717.6V725.6M209.43 717.6h4.8M209.43 725.6h4.8M222.5 706.4V715.2M220.1 706.4h4.8M220.1 715.2h4.8M233.17 714.8V724.8M230.77 714.8h4.8M230.77 724.8h4.8M243.83 716.8V725.6M241.43 716.8h4.8M241.43 725.6h4.8M254.5 711.6V721.6M252.1 711.6h4.8M252.1 721.6h4.8M265.17 713V724.2M262.77 713h4.8M262.77 724.2h4.8M275.83 717.8V727.8M273.43 717.8h4.8M273.43 727.8h4.8M286.5 712V722.8M284.1 712h4.8M284.1 722.8h4.8M297.17 716.8V726.8M294.77 716.8h4.8M294.77 726.8h4.8M307.83 716.4V725.2M305.43 716.4h4.8M305.43 725.2h4.8M318.5 718.2V736.2M316.1 718.2h4.8M316.1 736.2h4.8M329.17 725V743.8M326.77 725h4.8M326.77 743.8h4.8" class="e"/>
<g><circle cx="211.83" cy="721.6" r="2.25"/><circle cx="222.5" cy="710.8" r="2.25"/><circle cx="233.17" cy="719.8" r="2.25"/><circle cx="243.83" cy="721.2" r="2.25"/><circle cx="254.5" cy="716.6" r="2.25"/><circle cx="265.17" cy="718.6" r="2.25"/><circle cx="275.83" cy="722.8" r="2.25"/><circle cx="286.5" cy="717.4" r="2.25"/><circle cx="297.17" cy="721.8" r="2.25"/><circle cx="307.83" cy="720.8" r="2.25"/><circle cx="318.5" cy="727.2" r="2.25"/><circle cx="329.17" cy="734.4" r="2.25"/></g>
<path d="M206 740C206.03 738.33 206.1 733 206.2 730C206.3 727 206.2 726.67 206.6 722C207 717.33 207.7 707.83 208.6 702C209.5 696.17 210.6 691 212 687C213.4 683 215.17 680 217 678C218.83 676 221.17 675.5 223 675C224.83 674.5 226 674.5 228 675C230 675.5 232.5 676.33 235 678C237.5 679.67 240.33 682.17 243 685C245.67 687.83 248 691.33 251 695C254 698.67 257.67 703.33 261 707C264.33 710.67 267.67 714.17 271 717C274.33 719.83 277.67 722.17 281 724C284.33 725.83 287.67 727 291 728C294.33 729 297.67 729.5 301 730C304.33 730.5 308 730.77 311 731C314 731.23 316.67 730.97 319 731.4C321.33 731.83 323.17 732.5 325 733.6C326.83 734.7 328.5 736.7 330 738C331.5 739.3 333.33 740.83 334 741.4" class="red"/>
<path d="M206.17 737.86C206.21 737.38 206.26 736.31 206.4 735C206.54 733.69 206.5 732.83 207 730C207.5 727.17 208.4 721.33 209.4 718C210.4 714.67 211.57 712.07 213 710C214.43 707.93 216.33 706.5 218 705.6C219.67 704.7 221.17 704.53 223 704.6C224.83 704.67 226.67 704.93 229 706C231.33 707.07 234 708.83 237 711C240 713.17 243.67 716.67 247 719C250.33 721.33 253.67 723.43 257 725C260.33 726.57 263.67 727.7 267 728.4C270.33 729.1 273.67 729.27 277 729.2C280.33 729.13 283.67 728.87 287 728C290.33 727.13 293.67 725.83 297 724C300.33 722.17 304 719.23 307 717C310 714.77 312.67 712.3 315 710.6C317.33 708.9 319.17 707.6 321 706.8C322.83 706 324.5 705.43 326 705.8C327.5 706.17 328.9 706.97 330 709C331.1 711.03 331.93 714.5 332.6 718C333.27 721.5 333.7 727.05 334 730C334.3 732.95 334.36 734.77 334.43 735.72" class="blue"/>
<text x="269.65" y="780.7" class="lb">1025 MeV</text>
<rect x="200" y="654.7" width="140.5" height="133.9" class="fr"/>
<path d="M366.5 655.3V788.6M399 655.3V788.6M431 655.3V788.6M463 655.3V788.6M494.5 655.3V788.6M360.7 662.6H501.4M360.7 741.3H501.4" class="g"/>
<path d="M360.5 772.78h1.1M501.4 772.78h-1.1M360.5 757.04h1.1M501.4 757.04h-1.1M360.5 741.3h3.7M501.4 741.3h-3.7M360.5 725.56h1.1M501.4 725.56h-1.1M360.5 709.82h1.1M501.4 709.82h-1.1M360.5 694.08h1.1M501.4 694.08h-1.1M360.5 678.34h1.1M501.4 678.34h-1.1M360.5 662.6h3.7M501.4 662.6h-3.7M366.5 788.6v-2.4M366.5 654.7v2.4M373.22 788.6v-1.1M373.22 654.7v1.1M379.64 788.6v-1.1M379.64 654.7v1.1M386.06 788.6v-1.1M386.06 654.7v1.1M392.48 788.6v-1.1M392.48 654.7v1.1M399 788.6v-2.4M399 654.7v2.4M405.32 788.6v-1.1M405.32 654.7v1.1M411.74 788.6v-1.1M411.74 654.7v1.1M418.16 788.6v-1.1M418.16 654.7v1.1M424.58 788.6v-1.1M424.58 654.7v1.1M431 788.6v-2.4M431 654.7v2.4M437.42 788.6v-1.1M437.42 654.7v1.1M443.84 788.6v-1.1M443.84 654.7v1.1M450.26 788.6v-1.1M450.26 654.7v1.1M456.68 788.6v-1.1M456.68 654.7v1.1M463 788.6v-2.4M463 654.7v2.4M469.52 788.6v-1.1M469.52 654.7v1.1M475.94 788.6v-1.1M475.94 654.7v1.1M482.36 788.6v-1.1M482.36 654.7v1.1M488.78 788.6v-1.1M488.78 654.7v1.1M494.5 788.6v-2.4M494.5 654.7v2.4" class="t"/>
<text x="358.45" y="666.8" class="yl">1</text>
<text x="358.45" y="745.5" class="yl">0</text>
<path d="M371.83 713.4V725.4M369.43 713.4h4.8M369.43 725.4h4.8M382.5 709.2V719.2M380.1 709.2h4.8M380.1 719.2h4.8M393.17 711.6V723.6M390.77 711.6h4.8M390.77 723.6h4.8M403.83 711.8V723.8M401.43 711.8h4.8M401.43 723.8h4.8M414.5 717.6V728.4M412.1 717.6h4.8M412.1 728.4h4.8M425.17 701.6V712.4M422.77 701.6h4.8M422.77 712.4h4.8M435.83 712V722M433.43 712h4.8M433.43 722h4.8M446.5 708V718.8M444.1 708h4.8M444.1 718.8h4.8M457.17 701.6V711.6M454.77 701.6h4.8M454.77 711.6h4.8M467.83 697V707M465.43 697h4.8M465.43 707h4.8M478.5 710.4V723.6M476.1 710.4h4.8M476.1 723.6h4.8M489.17 724.6V738.6M486.77 724.6h4.8M486.77 738.6h4.8" class="e"/>
<g><circle cx="371.83" cy="719.4" r="2.25"/><circle cx="382.5" cy="714.2" r="2.25"/><circle cx="393.17" cy="717.6" r="2.25"/><circle cx="403.83" cy="717.8" r="2.25"/><circle cx="414.5" cy="723" r="2.25"/><circle cx="425.17" cy="707" r="2.25"/><circle cx="435.83" cy="717" r="2.25"/><circle cx="446.5" cy="713.4" r="2.25"/><circle cx="457.17" cy="706.6" r="2.25"/><circle cx="467.83" cy="702" r="2.25"/><circle cx="478.5" cy="717" r="2.25"/><circle cx="489.17" cy="731.6" r="2.25"/></g>
<path d="M366.6 740C366.63 738.33 366.73 733 366.8 730C366.87 727 366.7 726.67 367 722C367.3 717.33 367.87 707.67 368.6 702C369.33 696.33 370.33 691.67 371.4 688C372.47 684.33 373.73 681.83 375 680C376.27 678.17 377.67 677.43 379 677C380.33 676.57 381.33 676.9 383 677.4C384.67 677.9 386.67 678.57 389 680C391.33 681.43 394 683.5 397 686C400 688.5 403.67 691.83 407 695C410.33 698.17 413.67 702 417 705C420.33 708 423.67 710.83 427 713C430.33 715.17 433.67 716.83 437 718C440.33 719.17 443.67 719.73 447 720C450.33 720.27 453.67 720.1 457 719.6C460.33 719.1 463.67 718 467 717C470.33 716 474 714.33 477 713.6C480 712.87 482.93 712.37 485 712.6C487.07 712.83 488.17 713.1 489.4 715C490.63 716.9 491.58 720.5 492.36 724C493.14 727.5 493.68 733.17 494.1 736C494.52 738.83 494.77 740.17 494.9 741" class="red"/>
<path d="M366.76 737.61C366.8 737 366.89 735.6 367 734C367.11 732.4 367 731 367.4 728C367.8 725 368.47 719.33 369.4 716C370.33 712.67 371.57 709.93 373 708C374.43 706.07 376.5 705.07 378 704.4C379.5 703.73 380.33 703.8 382 704C383.67 704.2 385.5 704.43 388 705.6C390.5 706.77 393.83 709.1 397 711C400.17 712.9 403.33 715.33 407 717C410.67 718.67 415.33 720.17 419 721C422.67 721.83 425.67 722 429 722C432.33 722 435.67 721.67 439 721C442.33 720.33 445.67 719.33 449 718C452.33 716.67 455.67 714.67 459 713C462.33 711.33 466 709.33 469 708C472 706.67 474.5 705.67 477 705C479.5 704.33 482 703.83 484 704C486 704.17 487.61 704.33 489 706C490.39 707.67 491.58 710.67 492.36 714C493.14 717.33 493.37 722.4 493.7 726C494.03 729.6 494.23 733.98 494.34 735.58" class="blue"/>
<text x="430.15" y="780.7" class="lb">1075 MeV</text>
<rect x="360.5" y="654.7" width="140.9" height="133.9" class="fr"/>
<path d="M527.5 655.3V788.6M559.5 655.3V788.6M591.5 655.3V788.6M623.5 655.3V788.6M655.5 655.3V788.6M521.1 729.1H661.5" class="g"/>
<path d="M520.9 773.74h1.1M661.5 773.74h-1.1M520.9 758.86h1.1M661.5 758.86h-1.1M520.9 743.98h1.1M661.5 743.98h-1.1M520.9 729.1h3.7M661.5 729.1h-3.7M520.9 714.22h1.1M661.5 714.22h-1.1M520.9 699.34h1.1M661.5 699.34h-1.1M520.9 684.46h1.1M661.5 684.46h-1.1M520.9 669.58h1.1M661.5 669.58h-1.1M527.5 788.6v-2.4M527.5 654.7v2.4M533.72 788.6v-1.1M533.72 654.7v1.1M540.14 788.6v-1.1M540.14 654.7v1.1M546.56 788.6v-1.1M546.56 654.7v1.1M552.98 788.6v-1.1M552.98 654.7v1.1M559.5 788.6v-2.4M559.5 654.7v2.4M565.82 788.6v-1.1M565.82 654.7v1.1M572.24 788.6v-1.1M572.24 654.7v1.1M578.66 788.6v-1.1M578.66 654.7v1.1M585.08 788.6v-1.1M585.08 654.7v1.1M591.5 788.6v-2.4M591.5 654.7v2.4M597.92 788.6v-1.1M597.92 654.7v1.1M604.34 788.6v-1.1M604.34 654.7v1.1M610.76 788.6v-1.1M610.76 654.7v1.1M617.18 788.6v-1.1M617.18 654.7v1.1M623.5 788.6v-2.4M623.5 654.7v2.4M630.02 788.6v-1.1M630.02 654.7v1.1M636.44 788.6v-1.1M636.44 654.7v1.1M642.86 788.6v-1.1M642.86 654.7v1.1M649.28 788.6v-1.1M649.28 654.7v1.1M655.5 788.6v-2.4M655.5 654.7v2.4" class="t"/>
<text x="518.85" y="658.9" class="yl">1</text>
<text x="518.85" y="733.3" class="yl">0</text>
<path d="M532.83 709.2V719.2M530.43 709.2h4.8M530.43 719.2h4.8M543.5 705.4V715.4M541.1 705.4h4.8M541.1 715.4h4.8M554.17 691.2V700M551.77 691.2h4.8M551.77 700h4.8M564.83 690.6V699.4M562.43 690.6h4.8M562.43 699.4h4.8M575.5 695.2V703.2M573.1 695.2h4.8M573.1 703.2h4.8M586.17 701.2V708.4M583.77 701.2h4.8M583.77 708.4h4.8M596.83 694.8V702M594.43 694.8h4.8M594.43 702h4.8M607.5 689.6V697.6M605.1 689.6h4.8M605.1 697.6h4.8M618.17 698.8V706.8M615.77 698.8h4.8M615.77 706.8h4.8M628.83 694.4V702.4M626.43 694.4h4.8M626.43 702.4h4.8M639.5 701V709M637.1 701h4.8M637.1 709h4.8M650.17 697.4V711.4M647.77 697.4h4.8M647.77 711.4h4.8" class="e"/>
<g><circle cx="532.83" cy="714.2" r="2.25"/><circle cx="543.5" cy="710.4" r="2.25"/><circle cx="554.17" cy="695.6" r="2.25"/><circle cx="564.83" cy="695" r="2.25"/><circle cx="575.5" cy="699.2" r="2.25"/><circle cx="586.17" cy="704.8" r="2.25"/><circle cx="596.83" cy="698.4" r="2.25"/><circle cx="607.5" cy="693.6" r="2.25"/><circle cx="618.17" cy="702.8" r="2.25"/><circle cx="628.83" cy="698.4" r="2.25"/><circle cx="639.5" cy="705" r="2.25"/><circle cx="650.17" cy="704.4" r="2.25"/></g>
<path d="M527.4 728C527.43 726.33 527.53 721 527.6 718C527.67 715 527.5 714.33 527.8 710C528.1 705.67 528.6 696.67 529.4 692C530.2 687.33 531.5 684.17 532.6 682C533.7 679.83 534.77 679.43 536 679C537.23 678.57 538.5 678.9 540 679.4C541.5 679.9 542.83 680.57 545 682C547.17 683.43 550 685.83 553 688C556 690.17 559.67 693 563 695C566.33 697 569.33 698.67 573 700C576.67 701.33 581.33 702.4 585 703C588.67 703.6 591.33 703.77 595 703.6C598.67 703.43 603 702.6 607 702C611 701.4 615.33 700.6 619 700C622.67 699.4 625.67 698.73 629 698.4C632.33 698.07 636.33 697.9 639 698C641.67 698.1 643.27 698.33 645 699C646.73 699.67 648.13 700.17 649.4 702C650.67 703.83 651.73 707 652.6 710C653.47 713 654.13 717 654.6 720C655.07 723 655.27 726.67 655.4 728" class="red"/>
<path d="M527.48 725.75C527.5 725.12 527.51 723.62 527.6 722C527.69 720.38 527.6 719 528 716C528.4 713 529 707.07 530 704C531 700.93 532.5 698.93 534 697.6C535.5 696.27 537.17 696.2 539 696C540.83 695.8 542.33 695.97 545 696.4C547.67 696.83 551.33 697.83 555 698.6C558.67 699.37 563 700.37 567 701C571 701.63 575 702.17 579 702.4C583 702.63 587 702.63 591 702.4C595 702.17 599 701.67 603 701C607 700.33 611 699.23 615 698.4C619 697.57 623.33 696.63 627 696C630.67 695.37 634.17 694.83 637 694.6C639.83 694.37 642 694.2 644 694.6C646 695 647.57 695.43 649 697C650.43 698.57 651.67 700.83 652.6 704C653.53 707.17 654.16 712.39 654.6 716C655.04 719.61 655.14 724.07 655.25 725.68" class="blue"/>
<text x="590.55" y="780.7" class="lb">1150 MeV</text>
<rect x="520.9" y="654.7" width="140.6" height="133.9" class="fr"/>
<path d="M688 655.3V788.6M719.5 655.3V788.6M751.5 655.3V788.6M783.5 655.3V788.6M816 655.3V788.6M681.7 729.1H822.3" class="g"/>
<path d="M681.5 773.74h1.1M822.3 773.74h-1.1M681.5 758.86h1.1M822.3 758.86h-1.1M681.5 743.98h1.1M822.3 743.98h-1.1M681.5 729.1h3.7M822.3 729.1h-3.7M681.5 714.22h1.1M822.3 714.22h-1.1M681.5 699.34h1.1M822.3 699.34h-1.1M681.5 684.46h1.1M822.3 684.46h-1.1M681.5 669.58h1.1M822.3 669.58h-1.1M688 788.6v-2.4M688 654.7v2.4M693.72 788.6v-1.1M693.72 654.7v1.1M700.14 788.6v-1.1M700.14 654.7v1.1M706.56 788.6v-1.1M706.56 654.7v1.1M712.98 788.6v-1.1M712.98 654.7v1.1M719.5 788.6v-2.4M719.5 654.7v2.4M725.82 788.6v-1.1M725.82 654.7v1.1M732.24 788.6v-1.1M732.24 654.7v1.1M738.66 788.6v-1.1M738.66 654.7v1.1M745.08 788.6v-1.1M745.08 654.7v1.1M751.5 788.6v-2.4M751.5 654.7v2.4M757.92 788.6v-1.1M757.92 654.7v1.1M764.34 788.6v-1.1M764.34 654.7v1.1M770.76 788.6v-1.1M770.76 654.7v1.1M777.18 788.6v-1.1M777.18 654.7v1.1M783.5 788.6v-2.4M783.5 654.7v2.4M790.02 788.6v-1.1M790.02 654.7v1.1M796.44 788.6v-1.1M796.44 654.7v1.1M802.86 788.6v-1.1M802.86 654.7v1.1M809.28 788.6v-1.1M809.28 654.7v1.1M816 788.6v-2.4M816 654.7v2.4" class="t"/>
<text x="679.45" y="658.9" class="yl">1</text>
<text x="679.45" y="733.3" class="yl">0</text>
<path d="M693.33 710.6V723.4M690.93 710.6h4.8M690.93 723.4h4.8M704 698.2V711.4M701.6 698.2h4.8M701.6 711.4h4.8M714.67 700.4V712.4M712.27 700.4h4.8M712.27 712.4h4.8M725.33 682.4V694.4M722.93 682.4h4.8M722.93 694.4h4.8M736 691.4V701.4M733.6 691.4h4.8M733.6 701.4h4.8M746.67 688.4V697.2M744.27 688.4h4.8M744.27 697.2h4.8M757.33 687V697M754.93 687h4.8M754.93 697h4.8M768 704.6V713.4M765.6 704.6h4.8M765.6 713.4h4.8M778.67 699.2V708M776.27 699.2h4.8M776.27 708h4.8M789.33 702.4V709.6M786.93 702.4h4.8M786.93 709.6h4.8M800 704.6V713.4M797.6 704.6h4.8M797.6 713.4h4.8M810.67 696.4V715.6M808.27 696.4h4.8M808.27 715.6h4.8" class="e"/>
<g><circle cx="693.33" cy="717" r="2.25"/><circle cx="704" cy="704.8" r="2.25"/><circle cx="714.67" cy="706.4" r="2.25"/><circle cx="725.33" cy="688.4" r="2.25"/><circle cx="736" cy="696.4" r="2.25"/><circle cx="746.67" cy="692.8" r="2.25"/><circle cx="757.33" cy="692" r="2.25"/><circle cx="768" cy="709" r="2.25"/><circle cx="778.67" cy="703.6" r="2.25"/><circle cx="789.33" cy="706" r="2.25"/><circle cx="800" cy="709" r="2.25"/><circle cx="810.67" cy="706" r="2.25"/></g>
<path d="M687.6 728C687.63 727 687.73 724 687.8 722C687.87 720 687.63 718.67 688 716C688.37 713.33 689 708.67 690 706C691 703.33 692.5 701.33 694 700C695.5 698.67 697.17 698.4 699 698C700.83 697.6 702.67 697.43 705 697.6C707.33 697.77 710 698.6 713 699C716 699.4 719.33 699.83 723 700C726.67 700.17 731 700.17 735 700C739 699.83 743 699.5 747 699C751 698.5 755 697.67 759 697C763 696.33 767 695.57 771 695C775 694.43 779.67 693.87 783 693.6C786.33 693.33 788.33 693.23 791 693.4C793.67 693.57 796.5 694 799 694.6C801.5 695.2 804 695.77 806 697C808 698.23 809.67 699.5 811 702C812.33 704.5 813.17 707.67 814 712C814.83 716.33 815.67 725.33 816 728" class="red"/>
<path d="M687.67 726.51C687.7 726.09 687.71 725.09 687.8 724C687.89 722.91 687.73 722 688.2 720C688.67 718 689.47 714.17 690.6 712C691.73 709.83 693.27 708.17 695 707C696.73 705.83 698.33 705.43 701 705C703.67 704.57 707.33 704.57 711 704.4C714.67 704.23 719 704.13 723 704C727 703.87 731 703.93 735 703.6C739 703.27 743 702.6 747 702C751 701.4 755 700.67 759 700C763 699.33 767 698.67 771 698C775 697.33 779.33 696.5 783 696C786.67 695.5 789.67 695.07 793 695C796.33 694.93 800.17 695.17 803 695.6C805.83 696.03 808.27 696.37 810 697.6C811.73 698.83 812.57 700.27 813.4 703C814.23 705.73 814.59 710.21 815 714C815.41 717.79 815.7 723.76 815.84 725.72" class="blue"/>
<text x="751.15" y="780.7" class="lb">1250 MeV</text>
<rect x="681.5" y="654.7" width="140.8" height="133.9" class="fr"/>
<path d="M848.5 655.3V788.6M842.2 729.1H852" class="g"/>
<path d="M842 773.74h1.1M842 758.86h1.1M842 743.98h1.1M842 729.1h3.7M842 714.22h1.1M842 699.34h1.1M842 684.46h1.1M842 669.58h1.1" class="t"/>
<text x="839.95" y="658.9" class="yl">1</text>
<text x="839.95" y="733.3" class="yl">0</text>
<path d="M848.5 729.1Q848.7 720.3 851 711.5" class="red"/>
<path d="M848.5 728.1Q848.7 721.3 851 713.5" class="blue"/>
<rect x="842" y="654.7" width="141" height="133.9" class="fr"/>
<path d="M46 793.4V926.5M77.6 793.4V926.5M109.5 793.4V926.5M141.6 793.4V926.5M174 793.4V926.5M39.7 803.5H180.4M39.7 873.9H180.4" class="g"/>
<path d="M39.5 909.1h1.1M180.4 909.1h-1.1M39.5 891.5h1.1M180.4 891.5h-1.1M39.5 873.9h3.7M180.4 873.9h-3.7M39.5 856.3h1.1M180.4 856.3h-1.1M39.5 838.7h1.1M180.4 838.7h-1.1M39.5 821.1h1.1M180.4 821.1h-1.1M39.5 803.5h3.7M180.4 803.5h-3.7M46 926.5v-2.4M46 792.8v2.4M51.72 926.5v-1.1M51.72 792.8v1.1M58.14 926.5v-1.1M58.14 792.8v1.1M64.56 926.5v-1.1M64.56 792.8v1.1M70.98 926.5v-1.1M70.98 792.8v1.1M77.6 926.5v-2.4M77.6 792.8v2.4M83.82 926.5v-1.1M83.82 792.8v1.1M90.24 926.5v-1.1M90.24 792.8v1.1M96.66 926.5v-1.1M96.66 792.8v1.1M103.08 926.5v-1.1M103.08 792.8v1.1M109.5 926.5v-2.4M109.5 792.8v2.4M115.92 926.5v-1.1M115.92 792.8v1.1M122.34 926.5v-1.1M122.34 792.8v1.1M128.76 926.5v-1.1M128.76 792.8v1.1M135.18 926.5v-1.1M135.18 792.8v1.1M141.6 926.5v-2.4M141.6 792.8v2.4M148.02 926.5v-1.1M148.02 792.8v1.1M154.44 926.5v-1.1M154.44 792.8v1.1M160.86 926.5v-1.1M160.86 792.8v1.1M167.28 926.5v-1.1M167.28 792.8v1.1M174 926.5v-2.4M174 792.8v2.4" class="t"/>
<text x="37.45" y="807.7" class="yl">0.2</text>
<text x="37.45" y="878.1" class="yl">0</text>
<path d="M51.13 836.6V870.6M48.73 836.6h4.8M48.73 870.6h4.8M61.8 872.4V902.4M59.4 872.4h4.8M59.4 902.4h4.8M72.47 870.6V896.6M70.07 870.6h4.8M70.07 896.6h4.8M83.13 871.8V899M80.73 871.8h4.8M80.73 899h4.8M93.8 841.8V869.8M91.4 841.8h4.8M91.4 869.8h4.8M104.47 855.4V884.2M102.07 855.4h4.8M102.07 884.2h4.8M115.13 873.4V901.4M112.73 873.4h4.8M112.73 901.4h4.8M125.8 849.4V877.4M123.4 849.4h4.8M123.4 877.4h4.8M136.47 883.6V913.6M134.07 883.6h4.8M134.07 913.6h4.8M147.13 877V905.8M144.73 877h4.8M144.73 905.8h4.8M157.8 886.8V922.8M155.4 886.8h4.8M155.4 922.8h4.8M168.47 856.6V900.6M166.07 856.6h4.8M166.07 900.6h4.8" class="e"/>
<g><circle cx="51.13" cy="853.6" r="2.25"/><circle cx="61.8" cy="887.4" r="2.25"/><circle cx="72.47" cy="883.6" r="2.25"/><circle cx="83.13" cy="885.4" r="2.25"/><circle cx="93.8" cy="855.8" r="2.25"/><circle cx="104.47" cy="869.8" r="2.25"/><circle cx="115.13" cy="887.4" r="2.25"/><circle cx="125.8" cy="863.4" r="2.25"/><circle cx="136.47" cy="898.6" r="2.25"/><circle cx="147.13" cy="891.4" r="2.25"/><circle cx="157.8" cy="904.8" r="2.25"/><circle cx="168.47" cy="878.6" r="2.25"/></g>
<path d="M45.6 872.6C46.5 872.4 48.77 871.57 51 871.4C53.23 871.23 56.33 871.33 59 871.6C61.67 871.87 64 872.27 67 873C70 873.73 73.33 874.9 77 876C80.67 877.1 85 878.57 89 879.6C93 880.63 97 881.3 101 882.2C105 883.1 109 884.17 113 885C117 885.83 121 886.63 125 887.2C129 887.77 133.33 888.17 137 888.4C140.67 888.63 143.67 888.73 147 888.6C150.33 888.47 154 888.27 157 887.6C160 886.93 162.83 885.67 165 884.6C167.17 883.53 168.67 882.53 170 881.2C171.33 879.87 172.33 877.73 173 876.6C173.67 875.47 173.83 874.77 174 874.4" class="red"/>
<path d="M45.69 872.58C46.57 872.38 48.78 871.56 51 871.4C53.22 871.24 56.33 871.33 59 871.6C61.67 871.87 64 872.27 67 873C70 873.73 73.33 874.9 77 876C80.67 877.1 85 878.53 89 879.6C93 880.67 97 881.43 101 882.4C105 883.37 109 884.53 113 885.4C117 886.27 121 887 125 887.6C129 888.2 133.33 888.7 137 889C140.67 889.3 143.67 889.47 147 889.4C150.33 889.33 154 889.23 157 888.6C160 887.97 162.83 886.7 165 885.6C167.17 884.5 168.67 883.43 170 882C171.33 880.57 172.38 878.16 173 877C173.62 875.84 173.62 875.38 173.75 875.05" class="blue"/>
<text x="109.15" y="918.8" class="lb">725 MeV</text>
<rect x="39.5" y="792.8" width="140.9" height="133.7" class="fr"/>
<path d="M206.5 793.4V926.5M238.5 793.4V926.5M270.5 793.4V926.5M302.5 793.4V926.5M334.5 793.4V926.5M200.2 803.5H340.5M200.2 873.9H340.5" class="g"/>
<path d="M200 909.1h1.1M340.5 909.1h-1.1M200 891.5h1.1M340.5 891.5h-1.1M200 873.9h3.7M340.5 873.9h-3.7M200 856.3h1.1M340.5 856.3h-1.1M200 838.7h1.1M340.5 838.7h-1.1M200 821.1h1.1M340.5 821.1h-1.1M200 803.5h3.7M340.5 803.5h-3.7M206.5 926.5v-2.4M206.5 792.8v2.4M212.72 926.5v-1.1M212.72 792.8v1.1M219.14 926.5v-1.1M219.14 792.8v1.1M225.56 926.5v-1.1M225.56 792.8v1.1M231.98 926.5v-1.1M231.98 792.8v1.1M238.5 926.5v-2.4M238.5 792.8v2.4M244.82 926.5v-1.1M244.82 792.8v1.1M251.24 926.5v-1.1M251.24 792.8v1.1M257.66 926.5v-1.1M257.66 792.8v1.1M264.08 926.5v-1.1M264.08 792.8v1.1M270.5 926.5v-2.4M270.5 792.8v2.4M276.92 926.5v-1.1M276.92 792.8v1.1M283.34 926.5v-1.1M283.34 792.8v1.1M289.76 926.5v-1.1M289.76 792.8v1.1M296.18 926.5v-1.1M296.18 792.8v1.1M302.5 926.5v-2.4M302.5 792.8v2.4M309.02 926.5v-1.1M309.02 792.8v1.1M315.44 926.5v-1.1M315.44 792.8v1.1M321.86 926.5v-1.1M321.86 792.8v1.1M328.28 926.5v-1.1M328.28 792.8v1.1M334.5 926.5v-2.4M334.5 792.8v2.4" class="t"/>
<text x="197.95" y="807.7" class="yl">0.2</text>
<text x="197.95" y="878.1" class="yl">0</text>
<path d="M211.83 836.4V865.2M209.43 836.4h4.8M209.43 865.2h4.8M222.5 833.4V856.2M220.1 833.4h4.8M220.1 856.2h4.8M233.17 831.6V853.6M230.77 831.6h4.8M230.77 853.6h4.8M243.83 855.4V878.6M241.43 855.4h4.8M241.43 878.6h4.8M254.5 830.6V854.6M252.1 830.6h4.8M252.1 854.6h4.8M265.17 867.2V891.6M262.77 867.2h4.8M262.77 891.6h4.8M275.83 874.2V899.4M273.43 874.2h4.8M273.43 899.4h4.8M286.5 838.2V869.4M284.1 838.2h4.8M284.1 869.4h4.8M297.17 860.2V890.2M294.77 860.2h4.8M294.77 890.2h4.8M307.83 840.8V872.8M305.43 840.8h4.8M305.43 872.8h4.8M318.5 890V921.2M316.1 890h4.8M316.1 921.2h4.8M329.17 886.6V924.6M326.77 886.6h4.8M326.77 924.6h4.8" class="e"/>
<g><circle cx="211.83" cy="850.8" r="2.25"/><circle cx="222.5" cy="844.8" r="2.25"/><circle cx="233.17" cy="842.6" r="2.25"/><circle cx="243.83" cy="867" r="2.25"/><circle cx="254.5" cy="842.6" r="2.25"/><circle cx="265.17" cy="879.4" r="2.25"/><circle cx="275.83" cy="886.8" r="2.25"/><circle cx="286.5" cy="853.8" r="2.25"/><circle cx="297.17" cy="875.2" r="2.25"/><circle cx="307.83" cy="856.8" r="2.25"/><circle cx="318.5" cy="905.6" r="2.25"/><circle cx="329.17" cy="905.6" r="2.25"/></g>
<path d="M206 872.6C206.1 872.17 206.37 870.77 206.6 870C206.83 869.23 206.67 869.27 207.4 868C208.13 866.73 209.57 863.8 211 862.4C212.43 861 214.33 860.17 216 859.6C217.67 859.03 218.83 858.87 221 859C223.17 859.13 226 859.4 229 860.4C232 861.4 235.33 863.07 239 865C242.67 866.93 247 869.6 251 872C255 874.4 259 876.9 263 879.4C267 881.9 271 884.63 275 887C279 889.37 283 891.6 287 893.6C291 895.6 295.33 897.73 299 899C302.67 900.27 306 900.87 309 901.2C312 901.53 314.5 901.53 317 901C319.5 900.47 322 899.5 324 898C326 896.5 327.57 894.5 329 892C330.43 889.5 331.73 885.83 332.6 883C333.47 880.17 333.93 876.33 334.2 875" class="red"/>
<path d="M206.18 871.52C206.25 871.1 206.4 869.92 206.6 869C206.8 868.08 206.67 867.67 207.4 866C208.13 864.33 209.57 860.73 211 859C212.43 857.27 214.17 856.37 216 855.6C217.83 854.83 219.83 854.4 222 854.4C224.17 854.4 226.17 854.5 229 855.6C231.83 856.7 235.33 858.77 239 861C242.67 863.23 247 866.33 251 869C255 871.67 259 874.33 263 877C267 879.67 271 882.5 275 885C279 887.5 283 889.9 287 892C291 894.1 295.33 896.2 299 897.6C302.67 899 306 899.9 309 900.4C312 900.9 314.5 901 317 900.6C319.5 900.2 322 899.43 324 898C326 896.57 327.57 894.5 329 892C330.43 889.5 331.78 885.61 332.6 883C333.42 880.39 333.71 877.46 333.93 876.36" class="blue"/>
<text x="269.65" y="918.8" class="lb">755 MeV</text>
<rect x="200" y="792.8" width="140.5" height="133.7" class="fr"/>
<path d="M366.5 793.4V926.5M399 793.4V926.5M431 793.4V926.5M463 793.4V926.5M494.5 793.4V926.5M360.7 803.5H501.4M360.7 873.9H501.4" class="g"/>
<path d="M360.5 909.1h1.1M501.4 909.1h-1.1M360.5 891.5h1.1M501.4 891.5h-1.1M360.5 873.9h3.7M501.4 873.9h-3.7M360.5 856.3h1.1M501.4 856.3h-1.1M360.5 838.7h1.1M501.4 838.7h-1.1M360.5 821.1h1.1M501.4 821.1h-1.1M360.5 803.5h3.7M501.4 803.5h-3.7M366.5 926.5v-2.4M366.5 792.8v2.4M373.22 926.5v-1.1M373.22 792.8v1.1M379.64 926.5v-1.1M379.64 792.8v1.1M386.06 926.5v-1.1M386.06 792.8v1.1M392.48 926.5v-1.1M392.48 792.8v1.1M399 926.5v-2.4M399 792.8v2.4M405.32 926.5v-1.1M405.32 792.8v1.1M411.74 926.5v-1.1M411.74 792.8v1.1M418.16 926.5v-1.1M418.16 792.8v1.1M424.58 926.5v-1.1M424.58 792.8v1.1M431 926.5v-2.4M431 792.8v2.4M437.42 926.5v-1.1M437.42 792.8v1.1M443.84 926.5v-1.1M443.84 792.8v1.1M450.26 926.5v-1.1M450.26 792.8v1.1M456.68 926.5v-1.1M456.68 792.8v1.1M463 926.5v-2.4M463 792.8v2.4M469.52 926.5v-1.1M469.52 792.8v1.1M475.94 926.5v-1.1M475.94 792.8v1.1M482.36 926.5v-1.1M482.36 792.8v1.1M488.78 926.5v-1.1M488.78 792.8v1.1M494.5 926.5v-2.4M494.5 792.8v2.4" class="t"/>
<text x="358.45" y="807.7" class="yl">0.2</text>
<text x="358.45" y="878.1" class="yl">0</text>
<path d="M371.83 853.2V883.2M369.43 853.2h4.8M369.43 883.2h4.8M382.5 824.8V848M380.1 824.8h4.8M380.1 848h4.8M393.17 825.2V849.2M390.77 825.2h4.8M390.77 849.2h4.8M403.83 827V853M401.43 827h4.8M401.43 853h4.8M414.5 841.4V874.2M412.1 841.4h4.8M412.1 874.2h4.8M425.17 822V858M422.77 822h4.8M422.77 858h4.8M435.83 815.4V853.4M433.43 815.4h4.8M433.43 853.4h4.8M446.5 849.2V887.2M444.1 849.2h4.8M444.1 887.2h4.8M457.17 840.6V879.4M454.77 840.6h4.8M454.77 879.4h4.8M467.83 841.6V880.4M465.43 841.6h4.8M465.43 880.4h4.8M478.5 878.2V906.2M476.1 878.2h4.8M476.1 906.2h4.8M489.17 855.6V892.4M486.77 855.6h4.8M486.77 892.4h4.8" class="e"/>
<g><circle cx="371.83" cy="868.2" r="2.25"/><circle cx="382.5" cy="836.4" r="2.25"/><circle cx="393.17" cy="837.2" r="2.25"/><circle cx="403.83" cy="840" r="2.25"/><circle cx="414.5" cy="857.8" r="2.25"/><circle cx="425.17" cy="840" r="2.25"/><circle cx="435.83" cy="834.4" r="2.25"/><circle cx="446.5" cy="868.2" r="2.25"/><circle cx="457.17" cy="860" r="2.25"/><circle cx="467.83" cy="861" r="2.25"/><circle cx="478.5" cy="892.2" r="2.25"/><circle cx="489.17" cy="874" r="2.25"/></g>
<path d="M366.6 872.6C366.67 871.83 366.87 869.27 367 868C367.13 866.73 366.9 867.17 367.4 865C367.9 862.83 368.9 857.67 370 855C371.1 852.33 372.5 850.5 374 849C375.5 847.5 377.33 846.6 379 846C380.67 845.4 382.17 845.23 384 845.4C385.83 845.57 387.5 845.9 390 847C392.5 848.1 395.5 849.67 399 852C402.5 854.33 407 857.83 411 861C415 864.17 419 867.57 423 871C427 874.43 431 878.17 435 881.6C439 885.03 443 888.53 447 891.6C451 894.67 455.33 897.83 459 900C462.67 902.17 466.17 903.6 469 904.6C471.83 905.6 473.67 906.1 476 906C478.33 905.9 481 905.17 483 904C485 902.83 486.5 901.33 488 899C489.5 896.67 491.05 893.17 492 890C492.95 886.83 493.28 882.6 493.7 880C494.12 877.4 494.37 875.33 494.5 874.4" class="red"/>
<path d="M366.75 870.48C366.79 869.9 366.89 868.41 367 867C367.11 865.59 366.9 864.83 367.4 862C367.9 859.17 368.9 853.27 370 850C371.1 846.73 372.5 844.33 374 842.4C375.5 840.47 377.33 839.23 379 838.4C380.67 837.57 382.17 837.37 384 837.4C385.83 837.43 387.5 837.5 390 838.6C392.5 839.7 395.5 841.5 399 844C402.5 846.5 407 850.27 411 853.6C415 856.93 419 860.43 423 864C427 867.57 431 871.4 435 875C439 878.6 443 882.33 447 885.6C451 888.87 455.33 892.1 459 894.6C462.67 897.1 466 899.2 469 900.6C472 902 474.67 902.77 477 903C479.33 903.23 481.17 902.9 483 902C484.83 901.1 486.5 899.77 488 897.6C489.5 895.43 491.05 892.1 492 889C492.95 885.9 493.33 881.21 493.7 879C494.07 876.79 494.14 876.28 494.22 875.73" class="blue"/>
<text x="430.15" y="918.8" class="lb">785 MeV</text>
<rect x="360.5" y="792.8" width="140.9" height="133.7" class="fr"/>
<path d="M527.5 793.4V926.5M559.5 793.4V926.5M591.5 793.4V926.5M623.5 793.4V926.5M655.5 793.4V926.5M521.1 803.4H661.5M521.1 880.5H661.5" class="g"/>
<path d="M520.9 911.34h1.1M661.5 911.34h-1.1M520.9 895.92h1.1M661.5 895.92h-1.1M520.9 880.5h3.7M661.5 880.5h-3.7M520.9 865.08h1.1M661.5 865.08h-1.1M520.9 849.66h1.1M661.5 849.66h-1.1M520.9 834.24h1.1M661.5 834.24h-1.1M520.9 818.82h1.1M661.5 818.82h-1.1M520.9 803.4h3.7M661.5 803.4h-3.7M527.5 926.5v-2.4M527.5 792.8v2.4M533.72 926.5v-1.1M533.72 792.8v1.1M540.14 926.5v-1.1M540.14 792.8v1.1M546.56 926.5v-1.1M546.56 792.8v1.1M552.98 926.5v-1.1M552.98 792.8v1.1M559.5 926.5v-2.4M559.5 792.8v2.4M565.82 926.5v-1.1M565.82 792.8v1.1M572.24 926.5v-1.1M572.24 792.8v1.1M578.66 926.5v-1.1M578.66 792.8v1.1M585.08 926.5v-1.1M585.08 792.8v1.1M591.5 926.5v-2.4M591.5 792.8v2.4M597.92 926.5v-1.1M597.92 792.8v1.1M604.34 926.5v-1.1M604.34 792.8v1.1M610.76 926.5v-1.1M610.76 792.8v1.1M617.18 926.5v-1.1M617.18 792.8v1.1M623.5 926.5v-2.4M623.5 792.8v2.4M630.02 926.5v-1.1M630.02 792.8v1.1M636.44 926.5v-1.1M636.44 792.8v1.1M642.86 926.5v-1.1M642.86 792.8v1.1M649.28 926.5v-1.1M649.28 792.8v1.1M655.5 926.5v-2.4M655.5 792.8v2.4" class="t"/>
<text x="518.85" y="807.6" class="yl">0.5</text>
<text x="518.85" y="884.7" class="yl">0</text>
<path d="M532.83 849.2V859.2M530.43 849.2h4.8M530.43 859.2h4.8M543.5 845V854.6M541.1 845h4.8M541.1 854.6h4.8M554.17 850V860M551.77 850h4.8M551.77 860h4.8M564.83 854.4V865.6M562.43 854.4h4.8M562.43 865.6h4.8M575.5 851.6V863.6M573.1 851.6h4.8M573.1 863.6h4.8M586.17 850.8V862.8M583.77 850.8h4.8M583.77 862.8h4.8M596.83 860.8V872M594.43 860.8h4.8M594.43 872h4.8M607.5 869.6V880.8M605.1 869.6h4.8M605.1 880.8h4.8M618.17 878.6V890.6M615.77 878.6h4.8M615.77 890.6h4.8M628.83 874.6V892.6M626.43 874.6h4.8M626.43 892.6h4.8M639.5 865V877M637.1 865h4.8M637.1 877h4.8M650.17 874V889.2M647.77 874h4.8M647.77 889.2h4.8" class="e"/>
<g><circle cx="532.83" cy="854.2" r="2.25"/><circle cx="543.5" cy="849.8" r="2.25"/><circle cx="554.17" cy="855" r="2.25"/><circle cx="564.83" cy="860" r="2.25"/><circle cx="575.5" cy="857.6" r="2.25"/><circle cx="586.17" cy="856.8" r="2.25"/><circle cx="596.83" cy="866.4" r="2.25"/><circle cx="607.5" cy="875.2" r="2.25"/><circle cx="618.17" cy="884.6" r="2.25"/><circle cx="628.83" cy="883.6" r="2.25"/><circle cx="639.5" cy="871" r="2.25"/><circle cx="650.17" cy="881.6" r="2.25"/></g>
<path d="M527.4 879.4C527.47 878.9 527.67 877.3 527.8 876.4C527.93 875.5 527.67 875.57 528.2 874C528.73 872.43 529.7 869 531 867C532.3 865 534.17 863.17 536 862C537.83 860.83 540 860.33 542 860C544 859.67 545.5 859.5 548 860C550.5 860.5 553.5 861.5 557 863C560.5 864.5 565 866.9 569 869C573 871.1 577 873.43 581 875.6C585 877.77 589 880 593 882C597 884 601 886 605 887.6C609 889.2 613.33 890.53 617 891.6C620.67 892.67 623.67 893.47 627 894C630.33 894.53 634 894.9 637 894.8C640 894.7 642.83 894.2 645 893.4C647.17 892.6 648.5 891.57 650 890C651.5 888.43 653.1 885.6 654 884C654.9 882.4 655.17 881 655.4 880.4" class="red"/>
<path d="M527.53 877.92C527.58 877.44 527.69 875.99 527.8 875C527.91 874.01 527.67 874 528.2 872C528.73 870 529.7 865.5 531 863C532.3 860.5 534.17 858.37 536 857C537.83 855.63 540 855.13 542 854.8C544 854.47 545.5 854.47 548 855C550.5 855.53 553.5 856.5 557 858C560.5 859.5 565 862 569 864C573 866 577 868 581 870C585 872 589 874.17 593 876C597 877.83 601 879.4 605 881C609 882.6 613.33 884.33 617 885.6C620.67 886.87 623.67 887.93 627 888.6C630.33 889.27 634 889.63 637 889.6C640 889.57 642.83 889 645 888.4C647.17 887.8 648.5 887 650 886C651.5 885 653.14 883.33 654 882.4C654.86 881.47 654.96 880.75 655.16 880.42" class="blue"/>
<text x="590.55" y="918.8" class="lb">825 MeV</text>
<rect x="520.9" y="792.8" width="140.6" height="133.7" class="fr"/>
<path d="M688 793.4V926.5M719.5 793.4V926.5M751.5 793.4V926.5M783.5 793.4V926.5M816 793.4V926.5M681.7 803.4H822.3M681.7 880.5H822.3" class="g"/>
<path d="M681.5 911.34h1.1M822.3 911.34h-1.1M681.5 895.92h1.1M822.3 895.92h-1.1M681.5 880.5h3.7M822.3 880.5h-3.7M681.5 865.08h1.1M822.3 865.08h-1.1M681.5 849.66h1.1M822.3 849.66h-1.1M681.5 834.24h1.1M822.3 834.24h-1.1M681.5 818.82h1.1M822.3 818.82h-1.1M681.5 803.4h3.7M822.3 803.4h-3.7M688 926.5v-2.4M688 792.8v2.4M693.72 926.5v-1.1M693.72 792.8v1.1M700.14 926.5v-1.1M700.14 792.8v1.1M706.56 926.5v-1.1M706.56 792.8v1.1M712.98 926.5v-1.1M712.98 792.8v1.1M719.5 926.5v-2.4M719.5 792.8v2.4M725.82 926.5v-1.1M725.82 792.8v1.1M732.24 926.5v-1.1M732.24 792.8v1.1M738.66 926.5v-1.1M738.66 792.8v1.1M745.08 926.5v-1.1M745.08 792.8v1.1M751.5 926.5v-2.4M751.5 792.8v2.4M757.92 926.5v-1.1M757.92 792.8v1.1M764.34 926.5v-1.1M764.34 792.8v1.1M770.76 926.5v-1.1M770.76 792.8v1.1M777.18 926.5v-1.1M777.18 792.8v1.1M783.5 926.5v-2.4M783.5 792.8v2.4M790.02 926.5v-1.1M790.02 792.8v1.1M796.44 926.5v-1.1M796.44 792.8v1.1M802.86 926.5v-1.1M802.86 792.8v1.1M809.28 926.5v-1.1M809.28 792.8v1.1M816 926.5v-2.4M816 792.8v2.4" class="t"/>
<text x="679.45" y="807.6" class="yl">0.5</text>
<text x="679.45" y="884.7" class="yl">0</text>
<path d="M693.33 843V854.2M690.93 843h4.8M690.93 854.2h4.8M704 836.2V846.2M701.6 836.2h4.8M701.6 846.2h4.8M714.67 838.4V850.4M712.27 838.4h4.8M712.27 850.4h4.8M725.33 838V850M722.93 838h4.8M722.93 850h4.8M736 841V853M733.6 841h4.8M733.6 853h4.8M746.67 848.8V860.8M744.27 848.8h4.8M744.27 860.8h4.8M757.33 853V864.2M754.93 853h4.8M754.93 864.2h4.8M768 859.8V871M765.6 859.8h4.8M765.6 871h4.8M778.67 865.4V877.4M776.27 865.4h4.8M776.27 877.4h4.8M789.33 878.4V892.4M786.93 878.4h4.8M786.93 892.4h4.8M800 874.6V898.6M797.6 874.6h4.8M797.6 898.6h4.8M810.67 873.4V888.6M808.27 873.4h4.8M808.27 888.6h4.8" class="e"/>
<g><circle cx="693.33" cy="848.6" r="2.25"/><circle cx="704" cy="841.2" r="2.25"/><circle cx="714.67" cy="844.4" r="2.25"/><circle cx="725.33" cy="844" r="2.25"/><circle cx="736" cy="847" r="2.25"/><circle cx="746.67" cy="854.8" r="2.25"/><circle cx="757.33" cy="858.6" r="2.25"/><circle cx="768" cy="865.4" r="2.25"/><circle cx="778.67" cy="871.4" r="2.25"/><circle cx="789.33" cy="885.4" r="2.25"/><circle cx="800" cy="886.6" r="2.25"/><circle cx="810.67" cy="881" r="2.25"/></g>
<path d="M687.6 879.4C687.67 878.5 687.87 875.57 688 874C688.13 872.43 687.9 872.5 688.4 870C688.9 867.5 689.9 862.17 691 859C692.1 855.83 693.33 853.07 695 851C696.67 848.93 699 847.53 701 846.6C703 845.67 704.67 845.33 707 845.4C709.33 845.47 712 845.9 715 847C718 848.1 721.33 849.83 725 852C728.67 854.17 733 857.23 737 860C741 862.77 745 865.87 749 868.6C753 871.33 757 874 761 876.4C765 878.8 769 881.07 773 883C777 884.93 781.33 886.73 785 888C788.67 889.27 792 890.1 795 890.6C798 891.1 800.67 891.17 803 891C805.33 890.83 807.27 890.43 809 889.6C810.73 888.77 812.23 887.43 813.4 886C814.57 884.57 815.57 881.83 816 881" class="red"/>
<path d="M687.74 877.2C687.78 876.5 687.89 874.53 688 873C688.11 871.47 687.9 870.83 688.4 868C688.9 865.17 689.9 859.33 691 856C692.1 852.67 693.33 850.17 695 848C696.67 845.83 698.83 844.07 701 843C703.17 841.93 705.67 841.7 708 841.6C710.33 841.5 712.17 841.67 715 842.4C717.83 843.13 721.33 844.4 725 846C728.67 847.6 733 849.83 737 852C741 854.17 745 856.83 749 859C753 861.17 757 863.1 761 865C765 866.9 769 868.63 773 870.4C777 872.17 781.33 874.17 785 875.6C788.67 877.03 791.67 878.17 795 879C798.33 879.83 802 880.27 805 880.6C808 880.93 811.17 881 813 881C814.83 881 815.49 880.67 815.98 880.6" class="blue"/>
<text x="751.15" y="918.8" class="lb">875 MeV</text>
<rect x="681.5" y="792.8" width="140.8" height="133.7" class="fr"/>
<path d="M848.5 793.4V926.5M842.2 803.4H852M842.2 880.5H852" class="g"/>
<path d="M842 911.34h1.1M842 895.92h1.1M842 880.5h3.7M842 865.08h1.1M842 849.66h1.1M842 834.24h1.1M842 818.82h1.1M842 803.4h3.7" class="t"/>
<text x="839.95" y="807.6" class="yl">0.5</text>
<text x="839.95" y="884.7" class="yl">0</text>
<path d="M848.5 880.5Q848.7 863.25 850.6 846" class="red"/>
<path d="M848.5 879.5Q848.7 862.75 850.6 845" class="blue"/>
<rect x="842" y="792.8" width="141" height="133.7" class="fr"/>
<path d="M46 931.1V1064.5M77.6 931.1V1064.5M109.5 931.1V1064.5M141.6 931.1V1064.5M174 931.1V1064.5M39.7 1009.4H180.4" class="g"/>
<path d="M39.5 1056.74h1.1M180.4 1056.74h-1.1M39.5 1040.96h1.1M180.4 1040.96h-1.1M39.5 1025.18h1.1M180.4 1025.18h-1.1M39.5 1009.4h3.7M180.4 1009.4h-3.7M39.5 993.62h1.1M180.4 993.62h-1.1M39.5 977.84h1.1M180.4 977.84h-1.1M39.5 962.06h1.1M180.4 962.06h-1.1M39.5 946.28h1.1M180.4 946.28h-1.1M46 1064.5v-2.4M46 930.5v2.4M51.72 1064.5v-1.1M51.72 930.5v1.1M58.14 1064.5v-1.1M58.14 930.5v1.1M64.56 1064.5v-1.1M64.56 930.5v1.1M70.98 1064.5v-1.1M70.98 930.5v1.1M77.6 1064.5v-2.4M77.6 930.5v2.4M83.82 1064.5v-1.1M83.82 930.5v1.1M90.24 1064.5v-1.1M90.24 930.5v1.1M96.66 1064.5v-1.1M96.66 930.5v1.1M103.08 1064.5v-1.1M103.08 930.5v1.1M109.5 1064.5v-2.4M109.5 930.5v2.4M115.92 1064.5v-1.1M115.92 930.5v1.1M122.34 1064.5v-1.1M122.34 930.5v1.1M128.76 1064.5v-1.1M128.76 930.5v1.1M135.18 1064.5v-1.1M135.18 930.5v1.1M141.6 1064.5v-2.4M141.6 930.5v2.4M148.02 1064.5v-1.1M148.02 930.5v1.1M154.44 1064.5v-1.1M154.44 930.5v1.1M160.86 1064.5v-1.1M160.86 930.5v1.1M167.28 1064.5v-1.1M167.28 930.5v1.1M174 1064.5v-2.4M174 930.5v2.4" class="t"/>
<text x="37.45" y="934.7" class="yl">1</text>
<text x="37.45" y="1013.6" class="yl">0</text>
<path d="M51.13 975.2V984M48.73 975.2h4.8M48.73 984h4.8M61.8 977V985M59.4 977h4.8M59.4 985h4.8M72.47 970.2V980.2M70.07 970.2h4.8M70.07 980.2h4.8M83.13 972.4V982.4M80.73 972.4h4.8M80.73 982.4h4.8M93.8 972.8V983.6M91.4 972.8h4.8M91.4 983.6h4.8M104.47 975.2V984.8M102.07 975.2h4.8M102.07 984.8h4.8M115.13 972.4V983.6M112.73 972.4h4.8M112.73 983.6h4.8M125.8 979.6V989.2M123.4 979.6h4.8M123.4 989.2h4.8M136.47 989V999M134.07 989h4.8M134.07 999h4.8M147.13 982.4V993.6M144.73 982.4h4.8M144.73 993.6h4.8M157.8 986V1002M155.4 986h4.8M155.4 1002h4.8M168.47 1002V1020M166.07 1002h4.8M166.07 1020h4.8" class="e"/>
<g><circle cx="51.13" cy="979.6" r="2.25"/><circle cx="61.8" cy="981" r="2.25"/><circle cx="72.47" cy="975.2" r="2.25"/><circle cx="83.13" cy="977.4" r="2.25"/><circle cx="93.8" cy="978.2" r="2.25"/><circle cx="104.47" cy="980" r="2.25"/><circle cx="115.13" cy="978" r="2.25"/><circle cx="125.8" cy="984.4" r="2.25"/><circle cx="136.47" cy="994" r="2.25"/><circle cx="147.13" cy="988" r="2.25"/><circle cx="157.8" cy="994" r="2.25"/><circle cx="168.47" cy="1011" r="2.25"/></g>
<path d="M45.6 1008C45.67 1007 45.87 1003.83 46 1002C46.13 1000.17 45.97 999.5 46.4 997C46.83 994.5 47.5 989.5 48.6 987C49.7 984.5 51.43 983.07 53 982C54.57 980.93 56.17 980.7 58 980.6C59.83 980.5 61.5 980.73 64 981.4C66.5 982.07 69.5 983.4 73 984.6C76.5 985.8 81 987.37 85 988.6C89 989.83 93 990.87 97 992C101 993.13 105 994.3 109 995.4C113 996.5 117 997.6 121 998.6C125 999.6 129.33 1000.73 133 1001.4C136.67 1002.07 139.67 1002.4 143 1002.6C146.33 1002.8 150 1002.73 153 1002.6C156 1002.47 158.67 1001.93 161 1001.8C163.33 1001.67 165.33 1001.43 167 1001.8C168.67 1002.17 169.83 1002.97 171 1004C172.17 1005.03 173.5 1007.33 174 1008" class="red"/>
<path d="M45.73 1005.8C45.77 1005 45.89 1002.8 46 1001C46.11 999.2 45.97 997.83 46.4 995C46.83 992.17 47.5 987 48.6 984C49.7 981 51.27 978.57 53 977C54.73 975.43 56.83 975 59 974.6C61.17 974.2 63.33 974.2 66 974.6C68.67 975 71.5 976.2 75 977C78.5 977.8 83 978.67 87 979.4C91 980.13 95 980.8 99 981.4C103 982 107 982.4 111 983C115 983.6 119 984.47 123 985C127 985.53 131 985.97 135 986.2C139 986.43 143.33 986.4 147 986.4C150.67 986.4 154.17 986.2 157 986.2C159.83 986.2 162 985.93 164 986.4C166 986.87 167.67 987.57 169 989C170.33 990.43 171.23 992.5 172 995C172.77 997.5 173.27 1002.08 173.6 1004C173.93 1005.92 173.92 1006.12 173.98 1006.54" class="blue"/>
<text x="109.15" y="1056.5" class="lb">975 MeV</text>
<rect x="39.5" y="930.5" width="140.9" height="134" class="fr"/>
<path d="M206.5 931.1V1064.5M238.5 931.1V1064.5M270.5 931.1V1064.5M302.5 931.1V1064.5M334.5 931.1V1064.5M200.2 1009.4H340.5" class="g"/>
<path d="M200 1056.74h1.1M340.5 1056.74h-1.1M200 1040.96h1.1M340.5 1040.96h-1.1M200 1025.18h1.1M340.5 1025.18h-1.1M200 1009.4h3.7M340.5 1009.4h-3.7M200 993.62h1.1M340.5 993.62h-1.1M200 977.84h1.1M340.5 977.84h-1.1M200 962.06h1.1M340.5 962.06h-1.1M200 946.28h1.1M340.5 946.28h-1.1M206.5 1064.5v-2.4M206.5 930.5v2.4M212.72 1064.5v-1.1M212.72 930.5v1.1M219.14 1064.5v-1.1M219.14 930.5v1.1M225.56 1064.5v-1.1M225.56 930.5v1.1M231.98 1064.5v-1.1M231.98 930.5v1.1M238.5 1064.5v-2.4M238.5 930.5v2.4M244.82 1064.5v-1.1M244.82 930.5v1.1M251.24 1064.5v-1.1M251.24 930.5v1.1M257.66 1064.5v-1.1M257.66 930.5v1.1M264.08 1064.5v-1.1M264.08 930.5v1.1M270.5 1064.5v-2.4M270.5 930.5v2.4M276.92 1064.5v-1.1M276.92 930.5v1.1M283.34 1064.5v-1.1M283.34 930.5v1.1M289.76 1064.5v-1.1M289.76 930.5v1.1M296.18 1064.5v-1.1M296.18 930.5v1.1M302.5 1064.5v-2.4M302.5 930.5v2.4M309.02 1064.5v-1.1M309.02 930.5v1.1M315.44 1064.5v-1.1M315.44 930.5v1.1M321.86 1064.5v-1.1M321.86 930.5v1.1M328.28 1064.5v-1.1M328.28 930.5v1.1M334.5 1064.5v-2.4M334.5 930.5v2.4" class="t"/>
<text x="197.95" y="934.7" class="yl">1</text>
<text x="197.95" y="1013.6" class="yl">0</text>
<path d="M211.83 970.8V981.6M209.43 970.8h4.8M209.43 981.6h4.8M222.5 971V982.2M220.1 971h4.8M220.1 982.2h4.8M233.17 964.6V977.4M230.77 964.6h4.8M230.77 977.4h4.8M243.83 969.6V981.6M241.43 969.6h4.8M241.43 981.6h4.8M254.5 971.2V984M252.1 971.2h4.8M252.1 984h4.8M265.17 966.4V980.4M262.77 966.4h4.8M262.77 980.4h4.8M275.83 969.4V982.6M273.43 969.4h4.8M273.43 982.6h4.8M286.5 977.6V989.6M284.1 977.6h4.8M284.1 989.6h4.8M297.17 965.4V976.6M294.77 965.4h4.8M294.77 976.6h4.8M307.83 978.2V989.4M305.43 978.2h4.8M305.43 989.4h4.8M318.5 1003.6V1022.4M316.1 1003.6h4.8M316.1 1022.4h4.8M329.17 986.6V1008.6M326.77 986.6h4.8M326.77 1008.6h4.8" class="e"/>
<g><circle cx="211.83" cy="976.2" r="2.25"/><circle cx="222.5" cy="976.6" r="2.25"/><circle cx="233.17" cy="971" r="2.25"/><circle cx="243.83" cy="975.6" r="2.25"/><circle cx="254.5" cy="977.6" r="2.25"/><circle cx="265.17" cy="973.4" r="2.25"/><circle cx="275.83" cy="976" r="2.25"/><circle cx="286.5" cy="983.6" r="2.25"/><circle cx="297.17" cy="971" r="2.25"/><circle cx="307.83" cy="983.8" r="2.25"/><circle cx="318.5" cy="1013" r="2.25"/><circle cx="329.17" cy="997.6" r="2.25"/></g>
<path d="M206 1008C206.07 1007.33 206.23 1005.17 206.4 1004C206.57 1002.83 206.5 1002.23 207 1001C207.5 999.77 208.4 997.57 209.4 996.6C210.4 995.63 211.57 995.23 213 995.2C214.43 995.17 216 995.7 218 996.4C220 997.1 222.5 998.43 225 999.4C227.5 1000.37 230.33 1001.53 233 1002.2C235.67 1002.87 237.67 1003.17 241 1003.4C244.33 1003.63 249 1003.63 253 1003.6C257 1003.57 261 1003.27 265 1003.2C269 1003.13 273 1003.13 277 1003.2C281 1003.27 285.33 1003.53 289 1003.6C292.67 1003.67 296 1003.77 299 1003.6C302 1003.43 304.33 1003.37 307 1002.6C309.67 1001.83 312.67 1000.43 315 999C317.33 997.57 319.17 995.73 321 994C322.83 992.27 324.6 989.77 326 988.6C327.4 987.43 328.4 986.77 329.4 987C330.4 987.23 331.3 988 332 990C332.7 992 333.13 996 333.6 999C334.07 1002 334.6 1006.5 334.8 1008" class="red"/>
<path d="M206.07 1005.99C206.09 1005.33 206.11 1003.5 206.2 1002C206.29 1000.5 206.2 999.5 206.6 997C207 994.5 207.7 989.6 208.6 987C209.5 984.4 210.6 982.73 212 981.4C213.4 980.07 214.83 979.5 217 979C219.17 978.5 222 978.57 225 978.4C228 978.23 231.67 978.23 235 978C238.33 977.77 241.67 977.37 245 977C248.33 976.63 251.67 976.1 255 975.8C258.33 975.5 262 975.17 265 975.2C268 975.23 270 975.43 273 976C276 976.57 279.67 977.6 283 978.6C286.33 979.6 289.67 980.83 293 982C296.33 983.17 299.67 984.5 303 985.6C306.33 986.7 309.67 987.77 313 988.6C316.33 989.43 320.53 990.13 323 990.6C325.47 991.07 326.47 990.83 327.8 991.4C329.13 991.97 330.13 992.8 331 994C331.87 995.2 332.47 996.93 333 998.6C333.53 1000.27 333.93 1002.63 334.2 1004C334.47 1005.37 334.55 1006.34 334.62 1006.8" class="blue"/>
<text x="269.65" y="1056.5" class="lb">1025 MeV</text>
<rect x="200" y="930.5" width="140.5" height="134" class="fr"/>
<path d="M366.5 931.1V1064.5M399 931.1V1064.5M431 931.1V1064.5M463 931.1V1064.5M494.5 931.1V1064.5M360.7 1009.4H501.4" class="g"/>
<path d="M360.5 1056.74h1.1M501.4 1056.74h-1.1M360.5 1040.96h1.1M501.4 1040.96h-1.1M360.5 1025.18h1.1M501.4 1025.18h-1.1M360.5 1009.4h3.7M501.4 1009.4h-3.7M360.5 993.62h1.1M501.4 993.62h-1.1M360.5 977.84h1.1M501.4 977.84h-1.1M360.5 962.06h1.1M501.4 962.06h-1.1M360.5 946.28h1.1M501.4 946.28h-1.1M366.5 1064.5v-2.4M366.5 930.5v2.4M373.22 1064.5v-1.1M373.22 930.5v1.1M379.64 1064.5v-1.1M379.64 930.5v1.1M386.06 1064.5v-1.1M386.06 930.5v1.1M392.48 1064.5v-1.1M392.48 930.5v1.1M399 1064.5v-2.4M399 930.5v2.4M405.32 1064.5v-1.1M405.32 930.5v1.1M411.74 1064.5v-1.1M411.74 930.5v1.1M418.16 1064.5v-1.1M418.16 930.5v1.1M424.58 1064.5v-1.1M424.58 930.5v1.1M431 1064.5v-2.4M431 930.5v2.4M437.42 1064.5v-1.1M437.42 930.5v1.1M443.84 1064.5v-1.1M443.84 930.5v1.1M450.26 1064.5v-1.1M450.26 930.5v1.1M456.68 1064.5v-1.1M456.68 930.5v1.1M463 1064.5v-2.4M463 930.5v2.4M469.52 1064.5v-1.1M469.52 930.5v1.1M475.94 1064.5v-1.1M475.94 930.5v1.1M482.36 1064.5v-1.1M482.36 930.5v1.1M488.78 1064.5v-1.1M488.78 930.5v1.1M494.5 1064.5v-2.4M494.5 930.5v2.4" class="t"/>
<text x="358.45" y="934.7" class="yl">1</text>
<text x="358.45" y="1013.6" class="yl">0</text>
<path d="M371.83 988.4V1003.2M369.43 988.4h4.8M369.43 1003.2h4.8M382.5 967.8V980.6M380.1 967.8h4.8M380.1 980.6h4.8M393.17 971V986.2M390.77 971h4.8M390.77 986.2h4.8M403.83 952.8V970M401.43 952.8h4.8M401.43 970h4.8M414.5 965.8V980.6M412.1 965.8h4.8M412.1 980.6h4.8M425.17 957V971M422.77 957h4.8M422.77 971h4.8M435.83 971.2V984.4M433.43 971.2h4.8M433.43 984.4h4.8M446.5 970.8V983.6M444.1 970.8h4.8M444.1 983.6h4.8M457.17 988.2V1000.2M454.77 988.2h4.8M454.77 1000.2h4.8M467.83 986.2V999M465.43 986.2h4.8M465.43 999h4.8M478.5 996.4V1011.6M476.1 996.4h4.8M476.1 1011.6h4.8M489.17 984.8V1002.8M486.77 984.8h4.8M486.77 1002.8h4.8" class="e"/>
<g><circle cx="371.83" cy="995.8" r="2.25"/><circle cx="382.5" cy="974.2" r="2.25"/><circle cx="393.17" cy="978.6" r="2.25"/><circle cx="403.83" cy="961.4" r="2.25"/><circle cx="414.5" cy="973.2" r="2.25"/><circle cx="425.17" cy="964" r="2.25"/><circle cx="435.83" cy="977.8" r="2.25"/><circle cx="446.5" cy="977.2" r="2.25"/><circle cx="457.17" cy="994.2" r="2.25"/><circle cx="467.83" cy="992.6" r="2.25"/><circle cx="478.5" cy="1004" r="2.25"/><circle cx="489.17" cy="993.8" r="2.25"/></g>
<path d="M366.6 1008C367.33 1008.33 369.27 1008.83 371 1010C372.73 1011.17 374.67 1013.43 377 1015C379.33 1016.57 382.33 1018.23 385 1019.4C387.67 1020.57 390.33 1021.47 393 1022C395.67 1022.53 398 1022.6 401 1022.6C404 1022.6 407.67 1022.33 411 1022C414.33 1021.67 417.67 1021.07 421 1020.6C424.33 1020.13 427.67 1019.57 431 1019.2C434.33 1018.83 437.67 1018.7 441 1018.4C444.33 1018.1 447.67 1017.87 451 1017.4C454.33 1016.93 458 1016.33 461 1015.6C464 1014.87 466.5 1014.27 469 1013C471.5 1011.73 473.83 1010 476 1008C478.17 1006 480.17 1003.5 482 1001C483.83 998.5 485.7 995.1 487 993C488.3 990.9 489.03 989.43 489.8 988.4C490.57 987.37 491.11 986.93 491.6 986.8C492.09 986.67 492.44 986.57 492.76 987.6C493.08 988.63 493.28 990.7 493.5 993C493.72 995.3 493.97 998.9 494.1 1001.4C494.23 1003.9 494.27 1006.9 494.3 1008" class="red"/>
<path d="M366.7 1006.44C366.75 1005.7 366.88 1003.57 367 1002C367.12 1000.43 366.9 999.1 367.4 997C367.9 994.9 368.73 991.3 370 989.4C371.27 987.5 372.83 986.67 375 985.6C377.17 984.53 380 983.83 383 983C386 982.17 389.67 981.43 393 980.6C396.33 979.77 399.67 978.7 403 978C406.33 977.3 410 976.63 413 976.4C416 976.17 418 976.23 421 976.6C424 976.97 427.67 977.6 431 978.6C434.33 979.6 437.67 981.03 441 982.6C444.33 984.17 447.67 986.2 451 988C454.33 989.8 457.67 992 461 993.4C464.33 994.8 467.67 995.73 471 996.4C474.33 997.07 478.17 997.27 481 997.4C483.83 997.53 486.27 997.13 488 997.2C489.73 997.27 490.54 997.3 491.4 997.8C492.26 998.3 492.74 999.13 493.16 1000.2C493.58 1001.27 493.72 1003.03 493.9 1004.2C494.08 1005.37 494.16 1006.7 494.22 1007.19" class="blue"/>
<text x="430.15" y="1056.5" class="lb">1075 MeV</text>
<rect x="360.5" y="930.5" width="140.9" height="134" class="fr"/>
<path d="M527.5 931.1V1064.5M559.5 931.1V1064.5M591.5 931.1V1064.5M623.5 931.1V1064.5M655.5 931.1V1064.5M521.1 945.8H661.5M521.1 1006.4H661.5" class="g"/>
<path d="M520.9 1054.88h1.1M661.5 1054.88h-1.1M520.9 1042.76h1.1M661.5 1042.76h-1.1M520.9 1030.64h1.1M661.5 1030.64h-1.1M520.9 1018.52h1.1M661.5 1018.52h-1.1M520.9 1006.4h3.7M661.5 1006.4h-3.7M520.9 994.28h1.1M661.5 994.28h-1.1M520.9 982.16h1.1M661.5 982.16h-1.1M520.9 970.04h1.1M661.5 970.04h-1.1M520.9 957.92h1.1M661.5 957.92h-1.1M520.9 945.8h3.7M661.5 945.8h-3.7M520.9 933.68h1.1M661.5 933.68h-1.1M527.5 1064.5v-2.4M527.5 930.5v2.4M533.72 1064.5v-1.1M533.72 930.5v1.1M540.14 1064.5v-1.1M540.14 930.5v1.1M546.56 1064.5v-1.1M546.56 930.5v1.1M552.98 1064.5v-1.1M552.98 930.5v1.1M559.5 1064.5v-2.4M559.5 930.5v2.4M565.82 1064.5v-1.1M565.82 930.5v1.1M572.24 1064.5v-1.1M572.24 930.5v1.1M578.66 1064.5v-1.1M578.66 930.5v1.1M585.08 1064.5v-1.1M585.08 930.5v1.1M591.5 1064.5v-2.4M591.5 930.5v2.4M597.92 1064.5v-1.1M597.92 930.5v1.1M604.34 1064.5v-1.1M604.34 930.5v1.1M610.76 1064.5v-1.1M610.76 930.5v1.1M617.18 1064.5v-1.1M617.18 930.5v1.1M623.5 1064.5v-2.4M623.5 930.5v2.4M630.02 1064.5v-1.1M630.02 930.5v1.1M636.44 1064.5v-1.1M636.44 930.5v1.1M642.86 1064.5v-1.1M642.86 930.5v1.1M649.28 1064.5v-1.1M649.28 930.5v1.1M655.5 1064.5v-2.4M655.5 930.5v2.4" class="t"/>
<text x="518.85" y="950" class="yl">1</text>
<text x="518.85" y="1010.6" class="yl">0</text>
<path d="M532.83 984V994M530.43 984h4.8M530.43 994h4.8M543.5 994V1004.8M541.1 994h4.8M541.1 1004.8h4.8M554.17 966.2V977.4M551.77 966.2h4.8M551.77 977.4h4.8M564.83 975.6V984.4M562.43 975.6h4.8M562.43 984.4h4.8M575.5 984V992M573.1 984h4.8M573.1 992h4.8M586.17 972.8V980.8M583.77 972.8h4.8M583.77 980.8h4.8M596.83 979.4V987.4M594.43 979.4h4.8M594.43 987.4h4.8M607.5 980.6V989.4M605.1 980.6h4.8M605.1 989.4h4.8M618.17 985.4V992.6M615.77 985.4h4.8M615.77 992.6h4.8M628.83 998.8V1006M626.43 998.8h4.8M626.43 1006h4.8M639.5 1003.4V1011.4M637.1 1003.4h4.8M637.1 1011.4h4.8M650.17 996V1010M647.77 996h4.8M647.77 1010h4.8" class="e"/>
<g><circle cx="532.83" cy="989" r="2.25"/><circle cx="543.5" cy="999.4" r="2.25"/><circle cx="554.17" cy="971.8" r="2.25"/><circle cx="564.83" cy="980" r="2.25"/><circle cx="575.5" cy="988" r="2.25"/><circle cx="586.17" cy="976.8" r="2.25"/><circle cx="596.83" cy="983.4" r="2.25"/><circle cx="607.5" cy="985" r="2.25"/><circle cx="618.17" cy="989" r="2.25"/><circle cx="628.83" cy="1002.4" r="2.25"/><circle cx="639.5" cy="1007.4" r="2.25"/><circle cx="650.17" cy="1003" r="2.25"/></g>
<path d="M527.4 1006C527.43 1006.67 527.47 1008.83 527.6 1010C527.73 1011.17 527.63 1011.17 528.2 1013C528.77 1014.83 529.7 1018.67 531 1021C532.3 1023.33 534 1025.4 536 1027C538 1028.6 540.5 1029.77 543 1030.6C545.5 1031.43 548.33 1031.87 551 1032C553.67 1032.13 556 1031.9 559 1031.4C562 1030.9 565.33 1030 569 1029C572.67 1028 577 1026.57 581 1025.4C585 1024.23 589 1023.07 593 1022C597 1020.93 601 1020.17 605 1019C609 1017.83 613.33 1016.4 617 1015C620.67 1013.6 624 1012.2 627 1010.6C630 1009 632.33 1007.4 635 1005.4C637.67 1003.4 640.67 1000.73 643 998.6C645.33 996.47 647.4 994.03 649 992.6C650.6 991.17 651.67 989.93 652.6 990C653.53 990.07 654.07 990.33 654.6 993C655.13 995.67 655.6 1003.83 655.8 1006" class="red"/>
<path d="M527.52 1005.39C527.57 1005.16 527.62 1004.56 527.8 1004C527.98 1003.44 527.73 1003 528.6 1002C529.47 1001 530.93 999.23 533 998C535.07 996.77 538 995.83 541 994.6C544 993.37 547.33 991.87 551 990.6C554.67 989.33 559.33 987.8 563 987C566.67 986.2 569.67 986 573 985.8C576.33 985.6 579.67 985.53 583 985.8C586.33 986.07 589.33 986.53 593 987.4C596.67 988.27 601 989.8 605 991C609 992.2 613.33 993.73 617 994.6C620.67 995.47 624 995.93 627 996.2C630 996.47 632.33 996.5 635 996.2C637.67 995.9 640.67 995.03 643 994.4C645.33 993.77 647.33 992.63 649 992.4C650.67 992.17 652 991.9 653 993C654 994.1 654.55 997 655 999C655.45 1001 655.57 1003.99 655.68 1004.99" class="blue"/>
<text x="590.55" y="1056.5" class="lb">1150 MeV</text>
<rect x="520.9" y="930.5" width="140.6" height="134" class="fr"/>
<path d="M688 931.1V1064.5M719.5 931.1V1064.5M751.5 931.1V1064.5M783.5 931.1V1064.5M816 931.1V1064.5M681.7 945.8H822.3M681.7 1006.4H822.3" class="g"/>
<path d="M681.5 1054.88h1.1M822.3 1054.88h-1.1M681.5 1042.76h1.1M822.3 1042.76h-1.1M681.5 1030.64h1.1M822.3 1030.64h-1.1M681.5 1018.52h1.1M822.3 1018.52h-1.1M681.5 1006.4h3.7M822.3 1006.4h-3.7M681.5 994.28h1.1M822.3 994.28h-1.1M681.5 982.16h1.1M822.3 982.16h-1.1M681.5 970.04h1.1M822.3 970.04h-1.1M681.5 957.92h1.1M822.3 957.92h-1.1M681.5 945.8h3.7M822.3 945.8h-3.7M681.5 933.68h1.1M822.3 933.68h-1.1M688 1064.5v-2.4M688 930.5v2.4M693.72 1064.5v-1.1M693.72 930.5v1.1M700.14 1064.5v-1.1M700.14 930.5v1.1M706.56 1064.5v-1.1M706.56 930.5v1.1M712.98 1064.5v-1.1M712.98 930.5v1.1M719.5 1064.5v-2.4M719.5 930.5v2.4M725.82 1064.5v-1.1M725.82 930.5v1.1M732.24 1064.5v-1.1M732.24 930.5v1.1M738.66 1064.5v-1.1M738.66 930.5v1.1M745.08 1064.5v-1.1M745.08 930.5v1.1M751.5 1064.5v-2.4M751.5 930.5v2.4M757.92 1064.5v-1.1M757.92 930.5v1.1M764.34 1064.5v-1.1M764.34 930.5v1.1M770.76 1064.5v-1.1M770.76 930.5v1.1M777.18 1064.5v-1.1M777.18 930.5v1.1M783.5 1064.5v-2.4M783.5 930.5v2.4M790.02 1064.5v-1.1M790.02 930.5v1.1M796.44 1064.5v-1.1M796.44 930.5v1.1M802.86 1064.5v-1.1M802.86 930.5v1.1M809.28 1064.5v-1.1M809.28 930.5v1.1M816 1064.5v-2.4M816 930.5v2.4" class="t"/>
<text x="679.45" y="950" class="yl">1</text>
<text x="679.45" y="1010.6" class="yl">0</text>
<path d="M693.33 980.4V992.4M690.93 980.4h4.8M690.93 992.4h4.8M704 964.2V978.2M701.6 964.2h4.8M701.6 978.2h4.8M714.67 982V995.2M712.27 982h4.8M712.27 995.2h4.8M725.33 976.8V989.6M722.93 976.8h4.8M722.93 989.6h4.8M736 980V990M733.6 980h4.8M733.6 990h4.8M746.67 972.8V982.4M744.27 972.8h4.8M744.27 982.4h4.8M757.33 969.8V979.4M754.93 969.8h4.8M754.93 979.4h4.8M768 991.8V1000.6M765.6 991.8h4.8M765.6 1000.6h4.8M778.67 991.6V1000.4M776.27 991.6h4.8M776.27 1000.4h4.8M789.33 998.2V1007M786.93 998.2h4.8M786.93 1007h4.8M800 1016.6V1026.6M797.6 1016.6h4.8M797.6 1026.6h4.8M810.67 984.2V1002.2M808.27 984.2h4.8M808.27 1002.2h4.8" class="e"/>
<g><circle cx="693.33" cy="986.4" r="2.25"/><circle cx="704" cy="971.2" r="2.25"/><circle cx="714.67" cy="988.6" r="2.25"/><circle cx="725.33" cy="983.2" r="2.25"/><circle cx="736" cy="985" r="2.25"/><circle cx="746.67" cy="977.6" r="2.25"/><circle cx="757.33" cy="974.6" r="2.25"/><circle cx="768" cy="996.2" r="2.25"/><circle cx="778.67" cy="996" r="2.25"/><circle cx="789.33" cy="1002.6" r="2.25"/><circle cx="800" cy="1021.6" r="2.25"/><circle cx="810.67" cy="993.2" r="2.25"/></g>
<path d="M687.6 1006C687.63 1006.67 687.7 1008.83 687.8 1010C687.9 1011.17 687.73 1011.17 688.2 1013C688.67 1014.83 689.47 1018.73 690.6 1021C691.73 1023.27 693.27 1025.27 695 1026.6C696.73 1027.93 698.83 1028.6 701 1029C703.17 1029.4 705.33 1029.43 708 1029C710.67 1028.57 713.5 1027.5 717 1026.4C720.5 1025.3 725 1023.63 729 1022.4C733 1021.17 737 1020.07 741 1019C745 1017.93 749 1017 753 1016C757 1015 761 1014.17 765 1013C769 1011.83 773.33 1010.5 777 1009C780.67 1007.5 784 1005.83 787 1004C790 1002.17 792.33 1000.17 795 998C797.67 995.83 800.67 993.07 803 991C805.33 988.93 807.5 986.93 809 985.6C810.5 984.27 811.3 983.5 812 983C812.7 982.5 812.83 982.43 813.2 982.6C813.57 982.77 813.9 983.1 814.2 984C814.5 984.9 814.77 986.33 815 988C815.23 989.67 815.43 992 815.6 994C815.77 996 815.9 997.93 816 1000C816.1 1002.07 816.17 1005.33 816.2 1006.4" class="red"/>
<path d="M687.87 1005.76C688.4 1005.3 689.15 1004.29 691 1003C692.85 1001.71 696 999.83 699 998C702 996.17 705.67 993.73 709 992C712.33 990.27 715.67 988.77 719 987.6C722.33 986.43 725.67 985.53 729 985C732.33 984.47 735.67 984.4 739 984.4C742.33 984.4 745.67 984.57 749 985C752.33 985.43 755.67 986.27 759 987C762.33 987.73 765.67 988.67 769 989.4C772.33 990.13 775.67 990.93 779 991.4C782.33 991.87 786 992.2 789 992.2C792 992.2 794.33 992.1 797 991.4C799.67 990.7 802.93 989.03 805 988C807.07 986.97 808.23 985.87 809.4 985.2C810.57 984.53 811.33 984.1 812 984C812.67 983.9 812.97 984.1 813.4 984.6C813.83 985.1 814.27 985.87 814.6 987C814.93 988.13 815.18 989.8 815.4 991.4C815.62 993 815.78 994.43 815.9 996.6C816.02 998.77 816.11 1003.12 816.15 1004.43" class="blue"/>
<text x="751.15" y="1056.5" class="lb">1250 MeV</text>
<rect x="681.5" y="930.5" width="140.8" height="134" class="fr"/>
<path d="M848.5 931.1V1064.5M842.2 945.8H852M842.2 1006.4H852" class="g"/>
<path d="M842 1054.88h1.1M842 1042.76h1.1M842 1030.64h1.1M842 1018.52h1.1M842 1006.4h3.7M842 994.28h1.1M842 982.16h1.1M842 970.04h1.1M842 957.92h1.1M842 945.8h3.7M842 933.68h1.1" class="t"/>
<text x="839.95" y="950" class="yl">1</text>
<text x="839.95" y="1010.6" class="yl">0</text>
<path d="M848.5 1006.4Q848.7 1011.2 851 1016" class="red"/>
<path d="M848.5 1005.4Q848.7 1003.45 851 1000.5" class="blue"/>
<rect x="842" y="930.5" width="141" height="134" class="fr"/>
<text transform="translate(15.0 583.95) rotate(-90)" class="rl">T</text>
<text transform="translate(15.0 721.65) rotate(-90)" class="rl">T</text>
<text transform="translate(15.8 859.65) rotate(-90)" class="rl">F</text>
<text transform="translate(15.8 997.5) rotate(-90)" class="rl">F</text>
<text x="45" y="1076.8" class="xl">-1</text>
<text x="109.5" y="1076.8" class="xl">0</text>
<text x="174" y="1076.8" class="xl">1</text>
<text x="205.5" y="1076.8" class="xl">-1</text>
<text x="270.5" y="1076.8" class="xl">0</text>
<text x="334.5" y="1076.8" class="xl">1</text>
<text x="365.5" y="1076.8" class="xl">-1</text>
<text x="431" y="1076.8" class="xl">0</text>
<text x="494.5" y="1076.8" class="xl">1</text>
<text x="526.5" y="1076.8" class="xl">-1</text>
<text x="591.5" y="1076.8" class="xl">0</text>
<text x="655.5" y="1076.8" class="xl">1</text>
<text x="687" y="1076.8" class="xl">-1</text>
<text x="751.5" y="1076.8" class="xl">0</text>
<text x="816" y="1076.8" class="xl">1</text>
<text x="847.5" y="1076.8" class="xl">-1</text>
</svg>
</body></html>
